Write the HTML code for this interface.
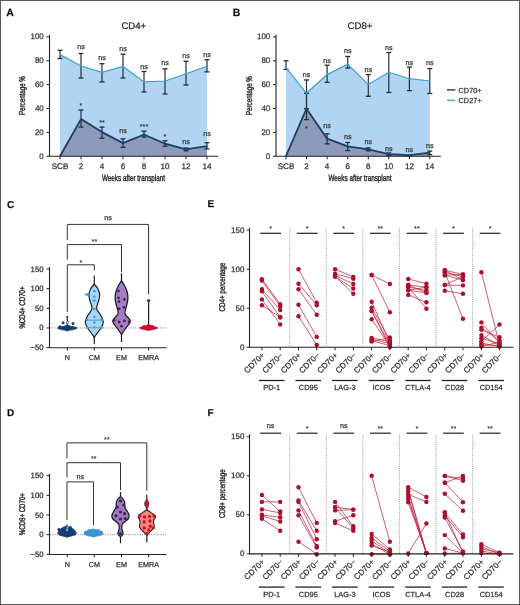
<!DOCTYPE html>
<html><head><meta charset="utf-8">
<style>
html,body{margin:0;padding:0;background:#fff;}
body{width:520px;height:605px;overflow:hidden;}
svg{display:block;font-family:"Liberation Sans", sans-serif;will-change:transform;}
text{stroke:#444;stroke-width:0.25px;text-rendering:geometricPrecision;}
text.st{stroke:#333;stroke-width:0.12px;}
text.ct{stroke:#333;stroke-width:0.42px;}
</style></head>
<body>
<svg width="520" height="605" viewBox="0 0 520 605">
<rect x="0" y="0" width="520" height="605" fill="#fff"/>
<text x="6.30" y="16.00" font-size="10.5" text-anchor="start" fill="#000" font-weight="bold" >A</text>
<text x="133.80" y="29.40" font-size="9.6" text-anchor="middle" fill="#222" font-weight="normal" >CD4+</text>
<polygon points="60.00,156.3 60.00,54.60 81.00,66.00 102.00,72.30 123.00,66.50 144.00,81.90 165.00,81.00 186.00,73.80 207.00,66.20 207.00,156.3" fill="#b0d4f1"/>
<polygon points="60.00,156.3 60.00,156.20 81.00,119.10 102.00,132.10 123.00,143.10 144.00,134.50 165.00,143.70 186.00,149.40 207.00,146.20 207.00,156.3" fill="#8d9aba"/>
<line x1="60.00" y1="50.30" x2="60.00" y2="58.50" stroke="#222f3e" stroke-width="1.2" />
<line x1="57.50" y1="50.30" x2="62.50" y2="50.30" stroke="#222f3e" stroke-width="1.3" />
<line x1="57.50" y1="58.50" x2="62.50" y2="58.50" stroke="#222f3e" stroke-width="1.3" />
<line x1="81.00" y1="53.50" x2="81.00" y2="78.00" stroke="#222f3e" stroke-width="1.2" />
<line x1="78.50" y1="53.50" x2="83.50" y2="53.50" stroke="#222f3e" stroke-width="1.3" />
<line x1="78.50" y1="78.00" x2="83.50" y2="78.00" stroke="#222f3e" stroke-width="1.3" />
<line x1="102.00" y1="63.70" x2="102.00" y2="81.90" stroke="#222f3e" stroke-width="1.2" />
<line x1="99.50" y1="63.70" x2="104.50" y2="63.70" stroke="#222f3e" stroke-width="1.3" />
<line x1="99.50" y1="81.90" x2="104.50" y2="81.90" stroke="#222f3e" stroke-width="1.3" />
<line x1="123.00" y1="54.20" x2="123.00" y2="78.00" stroke="#222f3e" stroke-width="1.2" />
<line x1="120.50" y1="54.20" x2="125.50" y2="54.20" stroke="#222f3e" stroke-width="1.3" />
<line x1="120.50" y1="78.00" x2="125.50" y2="78.00" stroke="#222f3e" stroke-width="1.3" />
<line x1="144.00" y1="71.50" x2="144.00" y2="92.00" stroke="#222f3e" stroke-width="1.2" />
<line x1="141.50" y1="71.50" x2="146.50" y2="71.50" stroke="#222f3e" stroke-width="1.3" />
<line x1="141.50" y1="92.00" x2="146.50" y2="92.00" stroke="#222f3e" stroke-width="1.3" />
<line x1="165.00" y1="68.80" x2="165.00" y2="94.00" stroke="#222f3e" stroke-width="1.2" />
<line x1="162.50" y1="68.80" x2="167.50" y2="68.80" stroke="#222f3e" stroke-width="1.3" />
<line x1="162.50" y1="94.00" x2="167.50" y2="94.00" stroke="#222f3e" stroke-width="1.3" />
<line x1="186.00" y1="61.30" x2="186.00" y2="85.00" stroke="#222f3e" stroke-width="1.2" />
<line x1="183.50" y1="61.30" x2="188.50" y2="61.30" stroke="#222f3e" stroke-width="1.3" />
<line x1="183.50" y1="85.00" x2="188.50" y2="85.00" stroke="#222f3e" stroke-width="1.3" />
<line x1="207.00" y1="59.80" x2="207.00" y2="71.90" stroke="#222f3e" stroke-width="1.2" />
<line x1="204.50" y1="59.80" x2="209.50" y2="59.80" stroke="#222f3e" stroke-width="1.3" />
<line x1="204.50" y1="71.90" x2="209.50" y2="71.90" stroke="#222f3e" stroke-width="1.3" />
<line x1="81.00" y1="110.00" x2="81.00" y2="127.10" stroke="#222f3e" stroke-width="1.2" />
<line x1="78.50" y1="110.00" x2="83.50" y2="110.00" stroke="#222f3e" stroke-width="1.3" />
<line x1="78.50" y1="127.10" x2="83.50" y2="127.10" stroke="#222f3e" stroke-width="1.3" />
<line x1="102.00" y1="127.10" x2="102.00" y2="138.30" stroke="#222f3e" stroke-width="1.2" />
<line x1="99.50" y1="127.10" x2="104.50" y2="127.10" stroke="#222f3e" stroke-width="1.3" />
<line x1="99.50" y1="138.30" x2="104.50" y2="138.30" stroke="#222f3e" stroke-width="1.3" />
<line x1="123.00" y1="138.80" x2="123.00" y2="147.30" stroke="#222f3e" stroke-width="1.2" />
<line x1="120.50" y1="138.80" x2="125.50" y2="138.80" stroke="#222f3e" stroke-width="1.3" />
<line x1="120.50" y1="147.30" x2="125.50" y2="147.30" stroke="#222f3e" stroke-width="1.3" />
<line x1="144.00" y1="131.10" x2="144.00" y2="137.00" stroke="#222f3e" stroke-width="1.2" />
<line x1="141.50" y1="131.10" x2="146.50" y2="131.10" stroke="#222f3e" stroke-width="1.3" />
<line x1="141.50" y1="137.00" x2="146.50" y2="137.00" stroke="#222f3e" stroke-width="1.3" />
<line x1="165.00" y1="140.80" x2="165.00" y2="146.20" stroke="#222f3e" stroke-width="1.2" />
<line x1="162.50" y1="140.80" x2="167.50" y2="140.80" stroke="#222f3e" stroke-width="1.3" />
<line x1="162.50" y1="146.20" x2="167.50" y2="146.20" stroke="#222f3e" stroke-width="1.3" />
<line x1="186.00" y1="148.00" x2="186.00" y2="150.80" stroke="#222f3e" stroke-width="1.2" />
<line x1="183.50" y1="148.00" x2="188.50" y2="148.00" stroke="#222f3e" stroke-width="1.3" />
<line x1="183.50" y1="150.80" x2="188.50" y2="150.80" stroke="#222f3e" stroke-width="1.3" />
<line x1="207.00" y1="142.70" x2="207.00" y2="148.80" stroke="#222f3e" stroke-width="1.2" />
<line x1="204.50" y1="142.70" x2="209.50" y2="142.70" stroke="#222f3e" stroke-width="1.3" />
<line x1="204.50" y1="148.80" x2="209.50" y2="148.80" stroke="#222f3e" stroke-width="1.3" />
<polyline points="60.00,54.60 81.00,66.00 102.00,72.30 123.00,66.50 144.00,81.90 165.00,81.00 186.00,73.80 207.00,66.20" fill="none" stroke="#3b9fd0" stroke-width="1.2"/>
<polyline points="60.00,156.20 81.00,119.10 102.00,132.10 123.00,143.10 144.00,134.50 165.00,143.70 186.00,149.40 207.00,146.20" fill="none" stroke="#1e3d62" stroke-width="1.8" stroke-linejoin="round"/>
<text x="81.00" y="48.50" font-size="7.2" text-anchor="middle" fill="#333" font-weight="normal" >ns</text>
<text x="102.00" y="59.70" font-size="7.2" text-anchor="middle" fill="#333" font-weight="normal" >ns</text>
<text x="123.00" y="50.90" font-size="7.2" text-anchor="middle" fill="#333" font-weight="normal" >ns</text>
<text x="144.00" y="68.70" font-size="7.2" text-anchor="middle" fill="#333" font-weight="normal" >ns</text>
<text x="165.00" y="65.20" font-size="7.2" text-anchor="middle" fill="#333" font-weight="normal" >ns</text>
<text x="186.00" y="58.20" font-size="7.2" text-anchor="middle" fill="#333" font-weight="normal" >ns</text>
<text x="207.00" y="56.60" font-size="7.2" text-anchor="middle" fill="#333" font-weight="normal" >ns</text>
<text x="81.00" y="108.20" font-size="7.2" text-anchor="middle" fill="#333" font-weight="normal"  class="st">*</text>
<text x="102.00" y="125.20" font-size="7.2" text-anchor="middle" fill="#333" font-weight="normal"  class="st">**</text>
<text x="123.00" y="133.40" font-size="7.2" text-anchor="middle" fill="#333" font-weight="normal" >ns</text>
<text x="144.00" y="129.00" font-size="7.2" text-anchor="middle" fill="#333" font-weight="normal"  class="st">***</text>
<text x="165.00" y="138.60" font-size="7.2" text-anchor="middle" fill="#333" font-weight="normal"  class="st">*</text>
<text x="186.00" y="143.50" font-size="7.2" text-anchor="middle" fill="#333" font-weight="normal" >ns</text>
<text x="207.00" y="136.20" font-size="7.2" text-anchor="middle" fill="#333" font-weight="normal" >ns</text>
<line x1="49.50" y1="34.80" x2="49.50" y2="156.30" stroke="#222" stroke-width="1.1" />
<line x1="49.50" y1="156.30" x2="218.00" y2="156.30" stroke="#222" stroke-width="1.1" />
<line x1="46.50" y1="36.90" x2="49.50" y2="36.90" stroke="#222" stroke-width="1" />
<text x="43.80" y="39.40" font-size="8.0" text-anchor="end" fill="#222" font-weight="normal" >100</text>
<line x1="46.50" y1="60.80" x2="49.50" y2="60.80" stroke="#222" stroke-width="1" />
<text x="43.80" y="63.30" font-size="8.0" text-anchor="end" fill="#222" font-weight="normal" >80</text>
<line x1="46.50" y1="84.60" x2="49.50" y2="84.60" stroke="#222" stroke-width="1" />
<text x="43.80" y="87.10" font-size="8.0" text-anchor="end" fill="#222" font-weight="normal" >60</text>
<line x1="46.50" y1="108.50" x2="49.50" y2="108.50" stroke="#222" stroke-width="1" />
<text x="43.80" y="111.00" font-size="8.0" text-anchor="end" fill="#222" font-weight="normal" >40</text>
<line x1="46.50" y1="132.40" x2="49.50" y2="132.40" stroke="#222" stroke-width="1" />
<text x="43.80" y="134.90" font-size="8.0" text-anchor="end" fill="#222" font-weight="normal" >20</text>
<line x1="46.50" y1="156.30" x2="49.50" y2="156.30" stroke="#222" stroke-width="1" />
<text x="43.80" y="158.80" font-size="8.0" text-anchor="end" fill="#222" font-weight="normal" >0</text>
<line x1="60.00" y1="156.30" x2="60.00" y2="159.30" stroke="#222" stroke-width="1" />
<text x="60.00" y="169.00" font-size="8.1" text-anchor="middle" fill="#222" font-weight="normal" >SCB</text>
<line x1="81.00" y1="156.30" x2="81.00" y2="159.30" stroke="#222" stroke-width="1" />
<text x="81.00" y="169.00" font-size="8.1" text-anchor="middle" fill="#222" font-weight="normal" >2</text>
<line x1="102.00" y1="156.30" x2="102.00" y2="159.30" stroke="#222" stroke-width="1" />
<text x="102.00" y="169.00" font-size="8.1" text-anchor="middle" fill="#222" font-weight="normal" >4</text>
<line x1="123.00" y1="156.30" x2="123.00" y2="159.30" stroke="#222" stroke-width="1" />
<text x="123.00" y="169.00" font-size="8.1" text-anchor="middle" fill="#222" font-weight="normal" >6</text>
<line x1="144.00" y1="156.30" x2="144.00" y2="159.30" stroke="#222" stroke-width="1" />
<text x="144.00" y="169.00" font-size="8.1" text-anchor="middle" fill="#222" font-weight="normal" >8</text>
<line x1="165.00" y1="156.30" x2="165.00" y2="159.30" stroke="#222" stroke-width="1" />
<text x="165.00" y="169.00" font-size="8.1" text-anchor="middle" fill="#222" font-weight="normal" >10</text>
<line x1="186.00" y1="156.30" x2="186.00" y2="159.30" stroke="#222" stroke-width="1" />
<text x="186.00" y="169.00" font-size="8.1" text-anchor="middle" fill="#222" font-weight="normal" >12</text>
<line x1="207.00" y1="156.30" x2="207.00" y2="159.30" stroke="#222" stroke-width="1" />
<text x="207.00" y="169.00" font-size="8.1" text-anchor="middle" fill="#222" font-weight="normal" >14</text>
<text class="ct" x="133.50" y="181.10" font-size="9.0" text-anchor="middle" fill="#222" textLength="63" lengthAdjust="spacingAndGlyphs">Weeks after transplant</text>
<text class="ct" x="25.10" y="95.60" font-size="8.6" text-anchor="middle" fill="#222" textLength="38.8" lengthAdjust="spacingAndGlyphs" transform="rotate(-90 25.10 95.60)">Percentage %</text>
<text x="232.80" y="16.00" font-size="10.5" text-anchor="start" fill="#000" font-weight="bold" >B</text>
<text x="360.00" y="29.40" font-size="9.6" text-anchor="middle" fill="#222" font-weight="normal" >CD8+</text>
<polygon points="286.00,156.3 286.00,67.50 306.50,93.30 327.10,74.60 347.70,64.20 368.30,84.60 388.80,72.30 409.40,78.70 429.80,81.00 429.80,156.3" fill="#b0d4f1"/>
<polygon points="286.00,156.3 286.00,156.00 306.50,108.70 327.10,138.70 347.70,146.30 368.30,149.40 388.80,154.20 409.40,155.20 429.80,152.70 429.80,156.3" fill="#8d9aba"/>
<line x1="286.00" y1="60.80" x2="286.00" y2="69.40" stroke="#222f3e" stroke-width="1.2" />
<line x1="283.50" y1="60.80" x2="288.50" y2="60.80" stroke="#222f3e" stroke-width="1.3" />
<line x1="283.50" y1="69.40" x2="288.50" y2="69.40" stroke="#222f3e" stroke-width="1.3" />
<line x1="306.50" y1="79.90" x2="306.50" y2="108.70" stroke="#222f3e" stroke-width="1.2" />
<line x1="304.00" y1="79.90" x2="309.00" y2="79.90" stroke="#222f3e" stroke-width="1.3" />
<line x1="304.00" y1="108.70" x2="309.00" y2="108.70" stroke="#222f3e" stroke-width="1.3" />
<line x1="327.10" y1="65.20" x2="327.10" y2="82.30" stroke="#222f3e" stroke-width="1.2" />
<line x1="324.60" y1="65.20" x2="329.60" y2="65.20" stroke="#222f3e" stroke-width="1.3" />
<line x1="324.60" y1="82.30" x2="329.60" y2="82.30" stroke="#222f3e" stroke-width="1.3" />
<line x1="347.70" y1="56.50" x2="347.70" y2="68.10" stroke="#222f3e" stroke-width="1.2" />
<line x1="345.20" y1="56.50" x2="350.20" y2="56.50" stroke="#222f3e" stroke-width="1.3" />
<line x1="345.20" y1="68.10" x2="350.20" y2="68.10" stroke="#222f3e" stroke-width="1.3" />
<line x1="368.30" y1="74.60" x2="368.30" y2="96.30" stroke="#222f3e" stroke-width="1.2" />
<line x1="365.80" y1="74.60" x2="370.80" y2="74.60" stroke="#222f3e" stroke-width="1.3" />
<line x1="365.80" y1="96.30" x2="370.80" y2="96.30" stroke="#222f3e" stroke-width="1.3" />
<line x1="388.80" y1="52.50" x2="388.80" y2="92.50" stroke="#222f3e" stroke-width="1.2" />
<line x1="386.30" y1="52.50" x2="391.30" y2="52.50" stroke="#222f3e" stroke-width="1.3" />
<line x1="386.30" y1="92.50" x2="391.30" y2="92.50" stroke="#222f3e" stroke-width="1.3" />
<line x1="409.40" y1="67.10" x2="409.40" y2="90.60" stroke="#222f3e" stroke-width="1.2" />
<line x1="406.90" y1="67.10" x2="411.90" y2="67.10" stroke="#222f3e" stroke-width="1.3" />
<line x1="406.90" y1="90.60" x2="411.90" y2="90.60" stroke="#222f3e" stroke-width="1.3" />
<line x1="429.80" y1="68.50" x2="429.80" y2="93.50" stroke="#222f3e" stroke-width="1.2" />
<line x1="427.30" y1="68.50" x2="432.30" y2="68.50" stroke="#222f3e" stroke-width="1.3" />
<line x1="427.30" y1="93.50" x2="432.30" y2="93.50" stroke="#222f3e" stroke-width="1.3" />
<line x1="306.50" y1="93.30" x2="306.50" y2="119.60" stroke="#222f3e" stroke-width="1.2" />
<line x1="304.00" y1="93.30" x2="309.00" y2="93.30" stroke="#222f3e" stroke-width="1.3" />
<line x1="304.00" y1="119.60" x2="309.00" y2="119.60" stroke="#222f3e" stroke-width="1.3" />
<line x1="327.10" y1="133.80" x2="327.10" y2="143.80" stroke="#222f3e" stroke-width="1.2" />
<line x1="324.60" y1="133.80" x2="329.60" y2="133.80" stroke="#222f3e" stroke-width="1.3" />
<line x1="324.60" y1="143.80" x2="329.60" y2="143.80" stroke="#222f3e" stroke-width="1.3" />
<line x1="347.70" y1="142.50" x2="347.70" y2="150.60" stroke="#222f3e" stroke-width="1.2" />
<line x1="345.20" y1="142.50" x2="350.20" y2="142.50" stroke="#222f3e" stroke-width="1.3" />
<line x1="345.20" y1="150.60" x2="350.20" y2="150.60" stroke="#222f3e" stroke-width="1.3" />
<line x1="368.30" y1="147.90" x2="368.30" y2="150.80" stroke="#222f3e" stroke-width="1.2" />
<line x1="365.80" y1="147.90" x2="370.80" y2="147.90" stroke="#222f3e" stroke-width="1.3" />
<line x1="365.80" y1="150.80" x2="370.80" y2="150.80" stroke="#222f3e" stroke-width="1.3" />
<line x1="388.80" y1="153.00" x2="388.80" y2="155.30" stroke="#222f3e" stroke-width="1.2" />
<line x1="386.30" y1="153.00" x2="391.30" y2="153.00" stroke="#222f3e" stroke-width="1.3" />
<line x1="386.30" y1="155.30" x2="391.30" y2="155.30" stroke="#222f3e" stroke-width="1.3" />
<line x1="429.80" y1="151.20" x2="429.80" y2="154.60" stroke="#222f3e" stroke-width="1.2" />
<line x1="427.30" y1="151.20" x2="432.30" y2="151.20" stroke="#222f3e" stroke-width="1.3" />
<line x1="427.30" y1="154.60" x2="432.30" y2="154.60" stroke="#222f3e" stroke-width="1.3" />
<polyline points="286.00,67.50 306.50,93.30 327.10,74.60 347.70,64.20 368.30,84.60 388.80,72.30 409.40,78.70 429.80,81.00" fill="none" stroke="#3b9fd0" stroke-width="1.2"/>
<polyline points="286.00,156.00 306.50,108.70 327.10,138.70 347.70,146.30 368.30,149.40 388.80,154.20 409.40,155.20 429.80,152.70" fill="none" stroke="#1e3d62" stroke-width="1.8" stroke-linejoin="round"/>
<text x="306.50" y="76.80" font-size="7.2" text-anchor="middle" fill="#333" font-weight="normal" >ns</text>
<text x="327.10" y="63.00" font-size="7.2" text-anchor="middle" fill="#333" font-weight="normal" >ns</text>
<text x="347.70" y="53.00" font-size="7.2" text-anchor="middle" fill="#333" font-weight="normal" >ns</text>
<text x="368.30" y="72.00" font-size="7.2" text-anchor="middle" fill="#333" font-weight="normal" >ns</text>
<text x="388.80" y="49.90" font-size="7.2" text-anchor="middle" fill="#333" font-weight="normal" >ns</text>
<text x="409.40" y="64.90" font-size="7.2" text-anchor="middle" fill="#333" font-weight="normal" >ns</text>
<text x="429.80" y="64.90" font-size="7.2" text-anchor="middle" fill="#333" font-weight="normal" >ns</text>
<text x="306.50" y="130.50" font-size="7.2" text-anchor="middle" fill="#333" font-weight="normal"  class="st">*</text>
<text x="327.10" y="128.40" font-size="7.2" text-anchor="middle" fill="#333" font-weight="normal" >ns</text>
<text x="347.70" y="138.90" font-size="7.2" text-anchor="middle" fill="#333" font-weight="normal" >ns</text>
<text x="368.30" y="143.90" font-size="7.2" text-anchor="middle" fill="#333" font-weight="normal" >ns</text>
<text x="388.80" y="150.70" font-size="7.2" text-anchor="middle" fill="#333" font-weight="normal" >ns</text>
<text x="409.40" y="151.60" font-size="7.2" text-anchor="middle" fill="#333" font-weight="normal" >ns</text>
<text x="429.80" y="148.20" font-size="7.2" text-anchor="middle" fill="#333" font-weight="normal" >ns</text>
<line x1="276.00" y1="34.80" x2="276.00" y2="156.30" stroke="#222" stroke-width="1.1" />
<line x1="276.00" y1="156.30" x2="440.80" y2="156.30" stroke="#222" stroke-width="1.1" />
<line x1="273.00" y1="36.90" x2="276.00" y2="36.90" stroke="#222" stroke-width="1" />
<text x="270.30" y="39.40" font-size="8.0" text-anchor="end" fill="#222" font-weight="normal" >100</text>
<line x1="273.00" y1="60.80" x2="276.00" y2="60.80" stroke="#222" stroke-width="1" />
<text x="270.30" y="63.30" font-size="8.0" text-anchor="end" fill="#222" font-weight="normal" >80</text>
<line x1="273.00" y1="84.60" x2="276.00" y2="84.60" stroke="#222" stroke-width="1" />
<text x="270.30" y="87.10" font-size="8.0" text-anchor="end" fill="#222" font-weight="normal" >60</text>
<line x1="273.00" y1="108.50" x2="276.00" y2="108.50" stroke="#222" stroke-width="1" />
<text x="270.30" y="111.00" font-size="8.0" text-anchor="end" fill="#222" font-weight="normal" >40</text>
<line x1="273.00" y1="132.40" x2="276.00" y2="132.40" stroke="#222" stroke-width="1" />
<text x="270.30" y="134.90" font-size="8.0" text-anchor="end" fill="#222" font-weight="normal" >20</text>
<line x1="273.00" y1="156.30" x2="276.00" y2="156.30" stroke="#222" stroke-width="1" />
<text x="270.30" y="158.80" font-size="8.0" text-anchor="end" fill="#222" font-weight="normal" >0</text>
<line x1="286.00" y1="156.30" x2="286.00" y2="159.30" stroke="#222" stroke-width="1" />
<text x="286.00" y="169.00" font-size="8.1" text-anchor="middle" fill="#222" font-weight="normal" >SCB</text>
<line x1="306.50" y1="156.30" x2="306.50" y2="159.30" stroke="#222" stroke-width="1" />
<text x="306.50" y="169.00" font-size="8.1" text-anchor="middle" fill="#222" font-weight="normal" >2</text>
<line x1="327.10" y1="156.30" x2="327.10" y2="159.30" stroke="#222" stroke-width="1" />
<text x="327.10" y="169.00" font-size="8.1" text-anchor="middle" fill="#222" font-weight="normal" >4</text>
<line x1="347.70" y1="156.30" x2="347.70" y2="159.30" stroke="#222" stroke-width="1" />
<text x="347.70" y="169.00" font-size="8.1" text-anchor="middle" fill="#222" font-weight="normal" >6</text>
<line x1="368.30" y1="156.30" x2="368.30" y2="159.30" stroke="#222" stroke-width="1" />
<text x="368.30" y="169.00" font-size="8.1" text-anchor="middle" fill="#222" font-weight="normal" >8</text>
<line x1="388.80" y1="156.30" x2="388.80" y2="159.30" stroke="#222" stroke-width="1" />
<text x="388.80" y="169.00" font-size="8.1" text-anchor="middle" fill="#222" font-weight="normal" >10</text>
<line x1="409.40" y1="156.30" x2="409.40" y2="159.30" stroke="#222" stroke-width="1" />
<text x="409.40" y="169.00" font-size="8.1" text-anchor="middle" fill="#222" font-weight="normal" >12</text>
<line x1="429.80" y1="156.30" x2="429.80" y2="159.30" stroke="#222" stroke-width="1" />
<text x="429.80" y="169.00" font-size="8.1" text-anchor="middle" fill="#222" font-weight="normal" >14</text>
<text class="ct" x="360.00" y="181.10" font-size="9.0" text-anchor="middle" fill="#222" textLength="63" lengthAdjust="spacingAndGlyphs">Weeks after transplant</text>
<text class="ct" x="252.40" y="95.60" font-size="8.6" text-anchor="middle" fill="#222" textLength="38.8" lengthAdjust="spacingAndGlyphs" transform="rotate(-90 252.40 95.60)">Percentage %</text>
<line x1="447.00" y1="89.90" x2="455.40" y2="89.90" stroke="#3b5372" stroke-width="1.6" />
<text x="458.60" y="92.60" font-size="7.3" text-anchor="start" fill="#222" font-weight="normal" >CD70+</text>
<line x1="447.00" y1="100.40" x2="455.40" y2="100.40" stroke="#5ab0e0" stroke-width="1.6" />
<text x="458.60" y="103.10" font-size="7.3" text-anchor="start" fill="#222" font-weight="normal" >CD27+</text>
<text x="7.10" y="207.50" font-size="10.0" text-anchor="start" fill="#000" font-weight="bold" >C</text>
<line x1="50.00" y1="327.95" x2="166.00" y2="327.95" stroke="#6a7d8a" stroke-width="0.9" stroke-dasharray="1,1.3"/>
<polyline points="67.3,239.80 67.3,224.40 148.6,224.40 148.6,294.50" fill="none" stroke="#333" stroke-width="1"/>
<text x="107.95" y="219.90" font-size="7.2" text-anchor="middle" fill="#333" font-weight="normal" >ns</text>
<polyline points="67.3,259.60 67.3,244.60 121.5,244.60 121.5,272.30" fill="none" stroke="#333" stroke-width="1"/>
<text x="94.40" y="244.40" font-size="7.2" text-anchor="middle" fill="#333" font-weight="normal"  class="st">**</text>
<polyline points="67.3,311.90 67.3,264.80 94.3,264.80 94.3,270.60" fill="none" stroke="#333" stroke-width="1"/>
<text x="80.80" y="264.80" font-size="7.2" text-anchor="middle" fill="#333" font-weight="normal"  class="st">*</text>
<line x1="67.3" y1="315.8" x2="67.3" y2="331.6" stroke="#123d6a" stroke-width="1.2"/>
<path d="M67.50,325.00 C68.12,325.22 69.42,325.93 70.80,326.30 C72.18,326.67 74.78,326.87 75.80,327.20 C76.82,327.53 77.32,327.90 76.90,328.30 C76.48,328.70 74.85,329.22 73.30,329.60 C71.75,329.98 68.65,330.43 67.60,330.60 C66.55,330.77 68.05,330.77 67.00,330.60 C65.95,330.43 62.85,329.98 61.30,329.60 C59.75,329.22 58.12,328.70 57.70,328.30 C57.28,327.90 57.78,327.53 58.80,327.20 C59.82,326.87 62.42,326.67 63.80,326.30 C65.18,325.93 66.48,325.22 67.10,325.00 C67.72,324.78 66.88,324.78 67.50,325.00Z" fill="#123d6a" stroke="#123d6a" stroke-width="0.8"/>
<circle cx="63.00" cy="322.80" r="1.5" fill="#123d6a" stroke="none" stroke-width="0.5"/><circle cx="73.00" cy="323.40" r="1.5" fill="#123d6a" stroke="none" stroke-width="0.5"/><circle cx="60.00" cy="326.80" r="1.5" fill="#123d6a" stroke="none" stroke-width="0.5"/>
<circle cx="67.30" cy="317.00" r="1.0" fill="#123d6a" stroke="none" stroke-width="0.5"/>
<circle cx="67.60" cy="322.60" r="1.3" fill="#dfe9f2" stroke="#123d6a" stroke-width="0.5"/>
<line x1="94.3" y1="275.6" x2="94.3" y2="344.0" stroke="#1c2530" stroke-width="1.2"/>
<path d="M94.40,284.40 C94.98,285.08 96.82,286.82 97.70,288.50 C98.58,290.18 99.53,292.50 99.70,294.50 C99.87,296.50 99.22,298.18 98.70,300.50 C98.18,302.82 96.25,305.90 96.60,308.40 C96.95,310.90 99.68,313.20 100.80,315.50 C101.92,317.80 103.33,320.03 103.30,322.20 C103.27,324.37 102.08,326.07 100.60,328.50 C99.12,330.93 95.47,335.42 94.40,336.80 C93.33,338.18 95.27,338.18 94.20,336.80 C93.13,335.42 89.48,330.93 88.00,328.50 C86.52,326.07 85.33,324.37 85.30,322.20 C85.27,320.03 86.68,317.80 87.80,315.50 C88.92,313.20 91.65,310.90 92.00,308.40 C92.35,305.90 90.42,302.82 89.90,300.50 C89.38,298.18 88.73,296.50 88.90,294.50 C89.07,292.50 90.02,290.18 90.90,288.50 C91.78,286.82 93.62,285.08 94.20,284.40 C94.78,283.72 93.82,283.72 94.40,284.40Z" fill="#aad4f3" stroke="#1c2530" stroke-width="1.2"/>
<circle cx="94.30" cy="291.20" r="1.25" fill="#2f9fcc" stroke="none" stroke-width="0.5"/><circle cx="94.30" cy="296.80" r="1.25" fill="#2f9fcc" stroke="none" stroke-width="0.5"/><circle cx="94.30" cy="300.60" r="1.25" fill="#2f9fcc" stroke="none" stroke-width="0.5"/><circle cx="94.30" cy="309.00" r="1.25" fill="#2f9fcc" stroke="none" stroke-width="0.5"/><circle cx="94.30" cy="317.00" r="1.25" fill="#2f9fcc" stroke="none" stroke-width="0.5"/><circle cx="94.30" cy="322.60" r="1.25" fill="#2f9fcc" stroke="none" stroke-width="0.5"/><circle cx="94.30" cy="327.60" r="1.25" fill="#2f9fcc" stroke="none" stroke-width="0.5"/><circle cx="86.40" cy="294.40" r="1.25" fill="#2f9fcc" stroke="none" stroke-width="0.5"/><circle cx="88.00" cy="294.40" r="1.25" fill="#2f9fcc" stroke="none" stroke-width="0.5"/><circle cx="87.00" cy="320.10" r="1.25" fill="#2f9fcc" stroke="none" stroke-width="0.5"/><circle cx="101.50" cy="320.10" r="1.25" fill="#2f9fcc" stroke="none" stroke-width="0.5"/><circle cx="87.00" cy="327.60" r="1.25" fill="#2f9fcc" stroke="none" stroke-width="0.5"/><circle cx="101.50" cy="327.60" r="1.25" fill="#2f9fcc" stroke="none" stroke-width="0.5"/>
<rect x="85.8" y="319.6" width="17.6" height="1.1" fill="#3fb0d6"/>
<rect x="86.5" y="327.2" width="16" height="1.0" fill="#3fb0d6"/>
<line x1="121.5" y1="273.3" x2="121.5" y2="342.0" stroke="#1c1420" stroke-width="1.2"/>
<path d="M121.60,281.00 C122.25,282.00 124.33,285.00 125.30,287.00 C126.27,289.00 126.97,291.00 127.40,293.00 C127.83,295.00 128.05,296.83 127.90,299.00 C127.75,301.17 126.98,303.57 126.50,306.00 C126.02,308.43 124.37,311.12 125.00,313.60 C125.63,316.08 130.02,318.67 130.30,320.90 C130.58,323.13 128.15,324.80 126.70,327.00 C125.25,329.20 122.48,332.92 121.60,334.10 C120.72,335.28 122.28,335.28 121.40,334.10 C120.52,332.92 117.75,329.20 116.30,327.00 C114.85,324.80 112.42,323.13 112.70,320.90 C112.98,318.67 117.37,316.08 118.00,313.60 C118.63,311.12 116.98,308.43 116.50,306.00 C116.02,303.57 115.25,301.17 115.10,299.00 C114.95,296.83 115.17,295.00 115.60,293.00 C116.03,291.00 116.73,289.00 117.70,287.00 C118.67,285.00 120.75,282.00 121.40,281.00 C122.05,280.00 120.95,280.00 121.60,281.00Z" fill="#a27fbf" stroke="#1c1420" stroke-width="1.2"/>
<circle cx="118.60" cy="291.10" r="1.4" fill="#4a1d5c" stroke="none" stroke-width="0.5"/><circle cx="118.60" cy="297.80" r="1.4" fill="#4a1d5c" stroke="none" stroke-width="0.5"/><circle cx="124.30" cy="299.50" r="1.4" fill="#4a1d5c" stroke="none" stroke-width="0.5"/><circle cx="119.00" cy="301.70" r="1.4" fill="#4a1d5c" stroke="none" stroke-width="0.5"/><circle cx="123.90" cy="307.40" r="1.4" fill="#4a1d5c" stroke="none" stroke-width="0.5"/><circle cx="119.20" cy="308.70" r="1.4" fill="#4a1d5c" stroke="none" stroke-width="0.5"/><circle cx="114.20" cy="320.20" r="1.4" fill="#4a1d5c" stroke="none" stroke-width="0.5"/><circle cx="119.20" cy="322.00" r="1.4" fill="#4a1d5c" stroke="none" stroke-width="0.5"/><circle cx="124.50" cy="320.90" r="1.4" fill="#4a1d5c" stroke="none" stroke-width="0.5"/><circle cx="129.10" cy="322.00" r="1.4" fill="#4a1d5c" stroke="none" stroke-width="0.5"/><circle cx="121.60" cy="326.20" r="1.4" fill="#4a1d5c" stroke="none" stroke-width="0.5"/>
<line x1="148.6" y1="300.6" x2="148.6" y2="329.5" stroke="#2a1a22" stroke-width="1.2"/>
<path d="M148.80,324.60 C149.50,324.87 151.27,325.75 152.60,326.20 C153.93,326.65 156.03,326.93 156.80,327.30 C157.57,327.67 157.73,328.05 157.20,328.40 C156.67,328.75 155.00,329.07 153.60,329.40 C152.20,329.73 149.67,330.23 148.80,330.40 C147.93,330.57 149.27,330.57 148.40,330.40 C147.53,330.23 145.00,329.73 143.60,329.40 C142.20,329.07 140.53,328.75 140.00,328.40 C139.47,328.05 139.63,327.67 140.40,327.30 C141.17,326.93 143.27,326.65 144.60,326.20 C145.93,325.75 147.70,324.87 148.40,324.60 C149.10,324.33 148.10,324.33 148.80,324.60Z" fill="#c8102e" stroke="#c8102e" stroke-width="0.8"/>
<circle cx="144.00" cy="326.50" r="1.6" fill="#c8102e" stroke="none" stroke-width="0.5"/><circle cx="152.50" cy="326.50" r="1.6" fill="#c8102e" stroke="none" stroke-width="0.5"/>
<circle cx="148.60" cy="300.60" r="1.7" fill="#a3122e" stroke="none" stroke-width="0.5"/>
<line x1="49.50" y1="267.00" x2="49.50" y2="348.00" stroke="#222" stroke-width="1.1" />
<line x1="49.50" y1="347.80" x2="166.60" y2="347.80" stroke="#222" stroke-width="1.1" />
<line x1="46.50" y1="269.00" x2="49.50" y2="269.00" stroke="#222" stroke-width="1" />
<text x="43.60" y="271.50" font-size="7.8" text-anchor="end" fill="#222" font-weight="normal" >150</text>
<line x1="46.50" y1="288.65" x2="49.50" y2="288.65" stroke="#222" stroke-width="1" />
<text x="43.60" y="291.15" font-size="7.8" text-anchor="end" fill="#222" font-weight="normal" >100</text>
<line x1="46.50" y1="308.30" x2="49.50" y2="308.30" stroke="#222" stroke-width="1" />
<text x="43.60" y="310.80" font-size="7.8" text-anchor="end" fill="#222" font-weight="normal" >50</text>
<line x1="46.50" y1="327.95" x2="49.50" y2="327.95" stroke="#222" stroke-width="1" />
<text x="43.60" y="330.45" font-size="7.8" text-anchor="end" fill="#222" font-weight="normal" >0</text>
<line x1="46.50" y1="347.60" x2="49.50" y2="347.60" stroke="#222" stroke-width="1" />
<text x="43.60" y="350.10" font-size="7.8" text-anchor="end" fill="#222" font-weight="normal" >−50</text>
<line x1="67.30" y1="347.80" x2="67.30" y2="350.60" stroke="#222" stroke-width="1" />
<text x="67.30" y="359.90" font-size="7.2" text-anchor="middle" fill="#222" font-weight="normal" >N</text>
<line x1="94.30" y1="347.80" x2="94.30" y2="350.60" stroke="#222" stroke-width="1" />
<text x="94.30" y="359.90" font-size="7.2" text-anchor="middle" fill="#222" font-weight="normal" >CM</text>
<line x1="121.50" y1="347.80" x2="121.50" y2="350.60" stroke="#222" stroke-width="1" />
<text x="121.50" y="359.90" font-size="7.2" text-anchor="middle" fill="#222" font-weight="normal" >EM</text>
<line x1="148.60" y1="347.80" x2="148.60" y2="350.60" stroke="#222" stroke-width="1" />
<text x="148.60" y="359.90" font-size="7.2" text-anchor="middle" fill="#222" font-weight="normal" >EMRA</text>
<text class="ct" x="25.00" y="307.50" font-size="8.2" text-anchor="middle" fill="#222" textLength="42.2" lengthAdjust="spacingAndGlyphs" transform="rotate(-90 25.00 307.50)">%CD4+ CD70+</text>
<text x="7.10" y="416.00" font-size="10.0" text-anchor="start" fill="#000" font-weight="bold" >D</text>
<line x1="50.00" y1="534.65" x2="166.00" y2="534.65" stroke="#6a7d8a" stroke-width="0.9" stroke-dasharray="1,1.3"/>
<polyline points="67.0,458.30 67.0,442.90 146.8,442.90 146.8,490.80" fill="none" stroke="#333" stroke-width="1"/>
<text x="106.90" y="441.50" font-size="7.2" text-anchor="middle" fill="#333" font-weight="normal"  class="st">**</text>
<polyline points="67.0,477.50 67.0,462.70 120.5,462.70 120.5,490.10" fill="none" stroke="#333" stroke-width="1"/>
<text x="93.75" y="461.10" font-size="7.2" text-anchor="middle" fill="#333" font-weight="normal"  class="st">**</text>
<polyline points="67.0,520.00 67.0,481.90 93.5,481.90 93.5,525.20" fill="none" stroke="#333" stroke-width="1"/>
<text x="80.25" y="478.70" font-size="7.2" text-anchor="middle" fill="#333" font-weight="normal" >ns</text>
<line x1="67.0" y1="524.5" x2="67.0" y2="537.5" stroke="#163e6e" stroke-width="1.2"/>
<path d="M67.20,526.00 C67.90,526.25 69.87,526.92 71.00,527.50 C72.13,528.08 73.25,528.83 74.00,529.50 C74.75,530.17 75.13,530.83 75.50,531.50 C75.87,532.17 76.62,532.83 76.20,533.50 C75.78,534.17 74.48,534.92 73.00,535.50 C71.52,536.08 68.35,536.75 67.30,537.00 C66.25,537.25 67.75,537.25 66.70,537.00 C65.65,536.75 62.48,536.08 61.00,535.50 C59.52,534.92 58.22,534.17 57.80,533.50 C57.38,532.83 58.13,532.17 58.50,531.50 C58.87,530.83 59.25,530.17 60.00,529.50 C60.75,528.83 61.87,528.08 63.00,527.50 C64.13,526.92 66.10,526.25 66.80,526.00 C67.50,525.75 66.50,525.75 67.20,526.00Z" fill="#163e6e" stroke="#163e6e" stroke-width="0.8"/>
<circle cx="59.00" cy="529.60" r="1.6" fill="#163e6e" stroke="none" stroke-width="0.5"/><circle cx="63.50" cy="530.80" r="1.6" fill="#163e6e" stroke="none" stroke-width="0.5"/><circle cx="70.50" cy="527.80" r="1.6" fill="#163e6e" stroke="none" stroke-width="0.5"/><circle cx="72.50" cy="531.00" r="1.6" fill="#163e6e" stroke="none" stroke-width="0.5"/><circle cx="74.50" cy="534.00" r="1.6" fill="#163e6e" stroke="none" stroke-width="0.5"/><circle cx="60.50" cy="534.00" r="1.6" fill="#163e6e" stroke="none" stroke-width="0.5"/><circle cx="66.00" cy="532.00" r="1.6" fill="#163e6e" stroke="none" stroke-width="0.5"/>
<circle cx="67.60" cy="527.60" r="1.4" fill="#6c97c8" stroke="none" stroke-width="0.5"/><circle cx="67.00" cy="530.00" r="1.4" fill="#6c97c8" stroke="none" stroke-width="0.5"/>
<line x1="93.5" y1="529.0" x2="93.5" y2="537.5" stroke="#2d7fba" stroke-width="1"/>
<path d="M94.00,529.20 C94.92,529.42 97.15,530.03 98.50,530.50 C99.85,530.97 101.40,531.42 102.10,532.00 C102.80,532.58 103.13,533.40 102.70,534.00 C102.27,534.60 100.95,535.17 99.50,535.60 C98.05,536.03 95.08,536.43 94.00,536.60 C92.92,536.77 94.08,536.77 93.00,536.60 C91.92,536.43 88.95,536.03 87.50,535.60 C86.05,535.17 84.73,534.60 84.30,534.00 C83.87,533.40 84.20,532.58 84.90,532.00 C85.60,531.42 87.15,530.97 88.50,530.50 C89.85,530.03 92.08,529.42 93.00,529.20 C93.92,528.98 93.08,528.98 94.00,529.20Z" fill="#3597d8" stroke="#2d84c4" stroke-width="0.8"/>
<circle cx="85.80" cy="532.20" r="1.55" fill="#3597d8" stroke="none" stroke-width="0.5"/><circle cx="101.20" cy="532.20" r="1.55" fill="#3597d8" stroke="none" stroke-width="0.5"/><circle cx="89.00" cy="530.60" r="1.55" fill="#3597d8" stroke="none" stroke-width="0.5"/><circle cx="93.50" cy="530.20" r="1.55" fill="#3597d8" stroke="none" stroke-width="0.5"/><circle cx="98.00" cy="530.60" r="1.55" fill="#3597d8" stroke="none" stroke-width="0.5"/>
<line x1="120.5" y1="492.1" x2="120.5" y2="543.3" stroke="#1c1420" stroke-width="1.2"/>
<path d="M120.60,496.60 C121.05,497.00 122.43,498.10 123.10,499.00 C123.77,499.90 124.32,501.00 124.60,502.00 C124.88,503.00 124.72,504.00 124.80,505.00 C124.88,506.00 124.72,507.00 125.10,508.00 C125.48,509.00 126.50,510.00 127.10,511.00 C127.70,512.00 128.37,513.08 128.70,514.00 C129.03,514.92 129.20,515.67 129.10,516.50 C129.00,517.33 128.77,518.17 128.10,519.00 C127.43,519.83 126.05,520.67 125.10,521.50 C124.15,522.33 122.95,523.08 122.40,524.00 C121.85,524.92 121.85,526.00 121.80,527.00 C121.75,528.00 121.88,529.00 122.10,530.00 C122.32,531.00 123.03,532.17 123.10,533.00 C123.17,533.83 122.92,534.40 122.50,535.00 C122.08,535.60 120.95,536.33 120.60,536.60 C120.25,536.87 120.75,536.87 120.40,536.60 C120.05,536.33 118.92,535.60 118.50,535.00 C118.08,534.40 117.83,533.83 117.90,533.00 C117.97,532.17 118.68,531.00 118.90,530.00 C119.12,529.00 119.25,528.00 119.20,527.00 C119.15,526.00 119.15,524.92 118.60,524.00 C118.05,523.08 116.85,522.33 115.90,521.50 C114.95,520.67 113.57,519.83 112.90,519.00 C112.23,518.17 112.00,517.33 111.90,516.50 C111.80,515.67 111.97,514.92 112.30,514.00 C112.63,513.08 113.30,512.00 113.90,511.00 C114.50,510.00 115.52,509.00 115.90,508.00 C116.28,507.00 116.12,506.00 116.20,505.00 C116.28,504.00 116.12,503.00 116.40,502.00 C116.68,501.00 117.23,499.90 117.90,499.00 C118.57,498.10 119.95,497.00 120.40,496.60 C120.85,496.20 120.15,496.20 120.60,496.60Z" fill="#9c79bd" stroke="#1c1420" stroke-width="1.2"/>
<circle cx="120.50" cy="500.80" r="1.6" fill="#4a1d5c" stroke="none" stroke-width="0.5"/><circle cx="123.80" cy="505.00" r="1.6" fill="#4a1d5c" stroke="none" stroke-width="0.5"/><circle cx="117.20" cy="507.00" r="1.6" fill="#4a1d5c" stroke="none" stroke-width="0.5"/><circle cx="120.50" cy="512.00" r="1.6" fill="#4a1d5c" stroke="none" stroke-width="0.5"/><circle cx="124.60" cy="513.50" r="1.6" fill="#4a1d5c" stroke="none" stroke-width="0.5"/><circle cx="116.00" cy="515.80" r="1.6" fill="#4a1d5c" stroke="none" stroke-width="0.5"/><circle cx="120.50" cy="519.00" r="1.6" fill="#4a1d5c" stroke="none" stroke-width="0.5"/><circle cx="125.20" cy="518.50" r="1.6" fill="#4a1d5c" stroke="none" stroke-width="0.5"/><circle cx="120.50" cy="533.80" r="1.6" fill="#4a1d5c" stroke="none" stroke-width="0.5"/>
<line x1="146.8" y1="494.8" x2="146.8" y2="542.6" stroke="#2a1a1a" stroke-width="1.2"/>
<path d="M146.90,499.80 C147.18,500.08 148.08,500.80 148.40,501.50 C148.72,502.20 148.83,503.17 148.80,504.00 C148.77,504.83 148.52,505.75 148.20,506.50 C147.88,507.25 147.15,508.17 146.90,508.50 C146.65,508.83 146.95,508.83 146.70,508.50 C146.45,508.17 145.72,507.25 145.40,506.50 C145.08,505.75 144.83,504.83 144.80,504.00 C144.77,503.17 144.88,502.20 145.20,501.50 C145.52,500.80 146.42,500.08 146.70,499.80 C146.98,499.52 146.62,499.52 146.90,499.80Z" fill="#d9263c" stroke="#3a1a1a" stroke-width="0.9"/>
<path d="M146.90,509.80 C147.33,510.08 148.40,510.88 149.30,511.50 C150.20,512.12 151.35,512.83 152.30,513.50 C153.25,514.17 154.48,514.83 155.00,515.50 C155.52,516.17 155.60,516.75 155.40,517.50 C155.20,518.25 154.10,519.08 153.80,520.00 C153.50,520.92 153.53,522.00 153.60,523.00 C153.67,524.00 154.25,525.08 154.20,526.00 C154.15,526.92 153.87,527.67 153.30,528.50 C152.73,529.33 151.58,530.17 150.80,531.00 C150.02,531.83 149.25,532.80 148.60,533.50 C147.95,534.20 147.22,534.92 146.90,535.20 C146.58,535.48 147.02,535.48 146.70,535.20 C146.38,534.92 145.65,534.20 145.00,533.50 C144.35,532.80 143.58,531.83 142.80,531.00 C142.02,530.17 140.87,529.33 140.30,528.50 C139.73,527.67 139.45,526.92 139.40,526.00 C139.35,525.08 139.93,524.00 140.00,523.00 C140.07,522.00 140.10,520.92 139.80,520.00 C139.50,519.08 138.40,518.25 138.20,517.50 C138.00,516.75 138.08,516.17 138.60,515.50 C139.12,514.83 140.35,514.17 141.30,513.50 C142.25,512.83 143.40,512.12 144.30,511.50 C145.20,510.88 146.27,510.08 146.70,509.80 C147.13,509.52 146.47,509.52 146.90,509.80Z" fill="#f2897d" stroke="#3a1a1a" stroke-width="1.1"/>
<circle cx="146.80" cy="504.00" r="1.65" fill="#cc0f2a" stroke="none" stroke-width="0.5"/><circle cx="139.60" cy="516.00" r="1.65" fill="#cc0f2a" stroke="none" stroke-width="0.5"/><circle cx="144.50" cy="517.00" r="1.65" fill="#cc0f2a" stroke="none" stroke-width="0.5"/><circle cx="149.50" cy="516.50" r="1.65" fill="#cc0f2a" stroke="none" stroke-width="0.5"/><circle cx="154.00" cy="516.00" r="1.65" fill="#cc0f2a" stroke="none" stroke-width="0.5"/><circle cx="144.20" cy="522.00" r="1.65" fill="#cc0f2a" stroke="none" stroke-width="0.5"/><circle cx="150.00" cy="521.00" r="1.65" fill="#cc0f2a" stroke="none" stroke-width="0.5"/><circle cx="150.20" cy="526.20" r="1.65" fill="#cc0f2a" stroke="none" stroke-width="0.5"/><circle cx="144.20" cy="528.00" r="1.65" fill="#cc0f2a" stroke="none" stroke-width="0.5"/><circle cx="148.80" cy="530.00" r="1.65" fill="#cc0f2a" stroke="none" stroke-width="0.5"/><circle cx="153.20" cy="527.80" r="1.65" fill="#cc0f2a" stroke="none" stroke-width="0.5"/><circle cx="146.80" cy="533.60" r="1.65" fill="#cc0f2a" stroke="none" stroke-width="0.5"/>
<line x1="49.50" y1="473.70" x2="49.50" y2="554.70" stroke="#222" stroke-width="1.1" />
<line x1="49.50" y1="554.50" x2="166.60" y2="554.50" stroke="#222" stroke-width="1.1" />
<line x1="46.50" y1="475.70" x2="49.50" y2="475.70" stroke="#222" stroke-width="1" />
<text x="43.60" y="478.20" font-size="7.8" text-anchor="end" fill="#222" font-weight="normal" >150</text>
<line x1="46.50" y1="495.35" x2="49.50" y2="495.35" stroke="#222" stroke-width="1" />
<text x="43.60" y="497.85" font-size="7.8" text-anchor="end" fill="#222" font-weight="normal" >100</text>
<line x1="46.50" y1="515.00" x2="49.50" y2="515.00" stroke="#222" stroke-width="1" />
<text x="43.60" y="517.50" font-size="7.8" text-anchor="end" fill="#222" font-weight="normal" >50</text>
<line x1="46.50" y1="534.65" x2="49.50" y2="534.65" stroke="#222" stroke-width="1" />
<text x="43.60" y="537.15" font-size="7.8" text-anchor="end" fill="#222" font-weight="normal" >0</text>
<line x1="46.50" y1="554.30" x2="49.50" y2="554.30" stroke="#222" stroke-width="1" />
<text x="43.60" y="556.80" font-size="7.8" text-anchor="end" fill="#222" font-weight="normal" >−50</text>
<line x1="67.30" y1="554.50" x2="67.30" y2="557.30" stroke="#222" stroke-width="1" />
<text x="67.30" y="566.60" font-size="7.2" text-anchor="middle" fill="#222" font-weight="normal" >N</text>
<line x1="94.30" y1="554.50" x2="94.30" y2="557.30" stroke="#222" stroke-width="1" />
<text x="94.30" y="566.60" font-size="7.2" text-anchor="middle" fill="#222" font-weight="normal" >CM</text>
<line x1="121.50" y1="554.50" x2="121.50" y2="557.30" stroke="#222" stroke-width="1" />
<text x="121.50" y="566.60" font-size="7.2" text-anchor="middle" fill="#222" font-weight="normal" >EM</text>
<line x1="148.60" y1="554.50" x2="148.60" y2="557.30" stroke="#222" stroke-width="1" />
<text x="148.60" y="566.60" font-size="7.2" text-anchor="middle" fill="#222" font-weight="normal" >EMRA</text>
<text class="ct" x="25.00" y="514.20" font-size="8.2" text-anchor="middle" fill="#222" textLength="42.2" lengthAdjust="spacingAndGlyphs" transform="rotate(-90 25.00 514.20)">%CD8+ CD70+</text>
<text x="207.40" y="207.40" font-size="10.0" text-anchor="start" fill="#000" font-weight="bold" >E</text>
<line x1="289.70" y1="228.50" x2="289.70" y2="347.30" stroke="#7a7a8a" stroke-width="0.8" stroke-dasharray="1,1.2"/>
<line x1="326.28" y1="228.50" x2="326.28" y2="347.30" stroke="#7a7a8a" stroke-width="0.8" stroke-dasharray="1,1.2"/>
<line x1="362.86" y1="228.50" x2="362.86" y2="347.30" stroke="#7a7a8a" stroke-width="0.8" stroke-dasharray="1,1.2"/>
<line x1="399.44" y1="228.50" x2="399.44" y2="347.30" stroke="#7a7a8a" stroke-width="0.8" stroke-dasharray="1,1.2"/>
<line x1="436.02" y1="228.50" x2="436.02" y2="347.30" stroke="#7a7a8a" stroke-width="0.8" stroke-dasharray="1,1.2"/>
<line x1="472.60" y1="228.50" x2="472.60" y2="347.30" stroke="#7a7a8a" stroke-width="0.8" stroke-dasharray="1,1.2"/>
<line x1="261.90" y1="279.20" x2="280.20" y2="304.20" stroke="#c22740" stroke-width="0.75" />
<line x1="261.90" y1="280.60" x2="280.20" y2="306.20" stroke="#c22740" stroke-width="0.75" />
<line x1="261.90" y1="289.20" x2="280.20" y2="310.00" stroke="#c22740" stroke-width="0.75" />
<line x1="261.90" y1="291.30" x2="280.20" y2="317.30" stroke="#c22740" stroke-width="0.75" />
<line x1="261.90" y1="299.40" x2="280.20" y2="324.40" stroke="#c22740" stroke-width="0.75" />
<line x1="261.90" y1="305.20" x2="280.20" y2="317.30" stroke="#c22740" stroke-width="0.75" />
<circle cx="261.90" cy="279.20" r="2.2" fill="#ab0f2d"/>
<circle cx="280.20" cy="304.20" r="2.2" fill="#ab0f2d"/>
<circle cx="261.90" cy="280.60" r="2.2" fill="#ab0f2d"/>
<circle cx="280.20" cy="306.20" r="2.2" fill="#ab0f2d"/>
<circle cx="261.90" cy="289.20" r="2.2" fill="#ab0f2d"/>
<circle cx="280.20" cy="310.00" r="2.2" fill="#ab0f2d"/>
<circle cx="261.90" cy="291.30" r="2.2" fill="#ab0f2d"/>
<circle cx="280.20" cy="317.30" r="2.2" fill="#ab0f2d"/>
<circle cx="261.90" cy="299.40" r="2.2" fill="#ab0f2d"/>
<circle cx="280.20" cy="324.40" r="2.2" fill="#ab0f2d"/>
<circle cx="261.90" cy="305.20" r="2.2" fill="#ab0f2d"/>
<circle cx="280.20" cy="317.30" r="2.2" fill="#ab0f2d"/>
<line x1="298.48" y1="269.20" x2="316.75" y2="302.70" stroke="#c22740" stroke-width="0.75" />
<line x1="298.48" y1="283.70" x2="316.75" y2="305.20" stroke="#c22740" stroke-width="0.75" />
<line x1="298.48" y1="289.20" x2="316.75" y2="314.80" stroke="#c22740" stroke-width="0.75" />
<line x1="298.48" y1="304.80" x2="316.75" y2="336.90" stroke="#c22740" stroke-width="0.75" />
<line x1="298.48" y1="316.20" x2="316.75" y2="345.00" stroke="#c22740" stroke-width="0.75" />
<circle cx="298.48" cy="269.20" r="2.2" fill="#ab0f2d"/>
<circle cx="316.75" cy="302.70" r="2.2" fill="#ab0f2d"/>
<circle cx="298.48" cy="283.70" r="2.2" fill="#ab0f2d"/>
<circle cx="316.75" cy="305.20" r="2.2" fill="#ab0f2d"/>
<circle cx="298.48" cy="289.20" r="2.2" fill="#ab0f2d"/>
<circle cx="316.75" cy="314.80" r="2.2" fill="#ab0f2d"/>
<circle cx="298.48" cy="304.80" r="2.2" fill="#ab0f2d"/>
<circle cx="316.75" cy="336.90" r="2.2" fill="#ab0f2d"/>
<circle cx="298.48" cy="316.20" r="2.2" fill="#ab0f2d"/>
<circle cx="316.75" cy="345.00" r="2.2" fill="#ab0f2d"/>
<line x1="335.06" y1="269.20" x2="353.30" y2="276.90" stroke="#c22740" stroke-width="0.75" />
<line x1="335.06" y1="273.80" x2="353.30" y2="278.70" stroke="#c22740" stroke-width="0.75" />
<line x1="335.06" y1="275.40" x2="353.30" y2="284.00" stroke="#c22740" stroke-width="0.75" />
<line x1="335.06" y1="276.50" x2="353.30" y2="288.50" stroke="#c22740" stroke-width="0.75" />
<line x1="335.06" y1="276.50" x2="353.30" y2="293.70" stroke="#c22740" stroke-width="0.75" />
<circle cx="335.06" cy="269.20" r="2.2" fill="#ab0f2d"/>
<circle cx="353.30" cy="276.90" r="2.2" fill="#ab0f2d"/>
<circle cx="335.06" cy="273.80" r="2.2" fill="#ab0f2d"/>
<circle cx="353.30" cy="278.70" r="2.2" fill="#ab0f2d"/>
<circle cx="335.06" cy="275.40" r="2.2" fill="#ab0f2d"/>
<circle cx="353.30" cy="284.00" r="2.2" fill="#ab0f2d"/>
<circle cx="335.06" cy="276.50" r="2.2" fill="#ab0f2d"/>
<circle cx="353.30" cy="288.50" r="2.2" fill="#ab0f2d"/>
<circle cx="335.06" cy="276.50" r="2.2" fill="#ab0f2d"/>
<circle cx="353.30" cy="293.70" r="2.2" fill="#ab0f2d"/>
<line x1="371.64" y1="275.00" x2="389.85" y2="284.00" stroke="#c22740" stroke-width="0.75" />
<line x1="371.64" y1="275.00" x2="389.85" y2="312.30" stroke="#c22740" stroke-width="0.75" />
<line x1="371.64" y1="301.70" x2="389.85" y2="343.00" stroke="#c22740" stroke-width="0.75" />
<line x1="371.64" y1="307.70" x2="389.85" y2="340.00" stroke="#c22740" stroke-width="0.75" />
<line x1="371.64" y1="311.00" x2="389.85" y2="344.00" stroke="#c22740" stroke-width="0.75" />
<line x1="371.64" y1="319.20" x2="389.85" y2="346.00" stroke="#c22740" stroke-width="0.75" />
<line x1="371.64" y1="337.90" x2="389.85" y2="341.50" stroke="#c22740" stroke-width="0.75" />
<line x1="371.64" y1="339.20" x2="389.85" y2="343.50" stroke="#c22740" stroke-width="0.75" />
<line x1="371.64" y1="340.80" x2="389.85" y2="345.50" stroke="#c22740" stroke-width="0.75" />
<line x1="371.64" y1="341.50" x2="389.85" y2="337.50" stroke="#c22740" stroke-width="0.75" />
<line x1="371.64" y1="311.00" x2="389.85" y2="347.00" stroke="#c22740" stroke-width="0.75" />
<circle cx="371.64" cy="275.00" r="2.2" fill="#ab0f2d"/>
<circle cx="389.85" cy="284.00" r="2.2" fill="#ab0f2d"/>
<circle cx="371.64" cy="275.00" r="2.2" fill="#ab0f2d"/>
<circle cx="389.85" cy="312.30" r="2.2" fill="#ab0f2d"/>
<circle cx="371.64" cy="301.70" r="2.2" fill="#ab0f2d"/>
<circle cx="389.85" cy="343.00" r="2.2" fill="#ab0f2d"/>
<circle cx="371.64" cy="307.70" r="2.2" fill="#ab0f2d"/>
<circle cx="389.85" cy="340.00" r="2.2" fill="#ab0f2d"/>
<circle cx="371.64" cy="311.00" r="2.2" fill="#ab0f2d"/>
<circle cx="389.85" cy="344.00" r="2.2" fill="#ab0f2d"/>
<circle cx="371.64" cy="319.20" r="2.2" fill="#ab0f2d"/>
<circle cx="389.85" cy="346.00" r="2.2" fill="#ab0f2d"/>
<circle cx="371.64" cy="337.90" r="2.2" fill="#ab0f2d"/>
<circle cx="389.85" cy="341.50" r="2.2" fill="#ab0f2d"/>
<circle cx="371.64" cy="339.20" r="2.2" fill="#ab0f2d"/>
<circle cx="389.85" cy="343.50" r="2.2" fill="#ab0f2d"/>
<circle cx="371.64" cy="340.80" r="2.2" fill="#ab0f2d"/>
<circle cx="389.85" cy="345.50" r="2.2" fill="#ab0f2d"/>
<circle cx="371.64" cy="341.50" r="2.2" fill="#ab0f2d"/>
<circle cx="389.85" cy="337.50" r="2.2" fill="#ab0f2d"/>
<circle cx="371.64" cy="311.00" r="2.2" fill="#ab0f2d"/>
<circle cx="389.85" cy="347.00" r="2.2" fill="#ab0f2d"/>
<line x1="408.22" y1="279.00" x2="426.40" y2="283.70" stroke="#c22740" stroke-width="0.75" />
<line x1="408.22" y1="285.00" x2="426.40" y2="287.10" stroke="#c22740" stroke-width="0.75" />
<line x1="408.22" y1="287.10" x2="426.40" y2="290.30" stroke="#c22740" stroke-width="0.75" />
<line x1="408.22" y1="290.30" x2="426.40" y2="292.80" stroke="#c22740" stroke-width="0.75" />
<line x1="408.22" y1="294.90" x2="426.40" y2="302.30" stroke="#c22740" stroke-width="0.75" />
<line x1="408.22" y1="287.10" x2="426.40" y2="308.70" stroke="#c22740" stroke-width="0.75" />
<line x1="408.22" y1="290.30" x2="426.40" y2="287.10" stroke="#c22740" stroke-width="0.75" />
<line x1="408.22" y1="285.00" x2="426.40" y2="292.80" stroke="#c22740" stroke-width="0.75" />
<circle cx="408.22" cy="279.00" r="2.2" fill="#ab0f2d"/>
<circle cx="426.40" cy="283.70" r="2.2" fill="#ab0f2d"/>
<circle cx="408.22" cy="285.00" r="2.2" fill="#ab0f2d"/>
<circle cx="426.40" cy="287.10" r="2.2" fill="#ab0f2d"/>
<circle cx="408.22" cy="287.10" r="2.2" fill="#ab0f2d"/>
<circle cx="426.40" cy="290.30" r="2.2" fill="#ab0f2d"/>
<circle cx="408.22" cy="290.30" r="2.2" fill="#ab0f2d"/>
<circle cx="426.40" cy="292.80" r="2.2" fill="#ab0f2d"/>
<circle cx="408.22" cy="294.90" r="2.2" fill="#ab0f2d"/>
<circle cx="426.40" cy="302.30" r="2.2" fill="#ab0f2d"/>
<circle cx="408.22" cy="287.10" r="2.2" fill="#ab0f2d"/>
<circle cx="426.40" cy="308.70" r="2.2" fill="#ab0f2d"/>
<circle cx="408.22" cy="290.30" r="2.2" fill="#ab0f2d"/>
<circle cx="426.40" cy="287.10" r="2.2" fill="#ab0f2d"/>
<circle cx="408.22" cy="285.00" r="2.2" fill="#ab0f2d"/>
<circle cx="426.40" cy="292.80" r="2.2" fill="#ab0f2d"/>
<line x1="444.80" y1="270.20" x2="462.95" y2="274.40" stroke="#c22740" stroke-width="0.75" />
<line x1="444.80" y1="272.30" x2="462.95" y2="276.50" stroke="#c22740" stroke-width="0.75" />
<line x1="444.80" y1="275.20" x2="462.95" y2="280.10" stroke="#c22740" stroke-width="0.75" />
<line x1="444.80" y1="285.00" x2="462.95" y2="285.40" stroke="#c22740" stroke-width="0.75" />
<line x1="444.80" y1="290.70" x2="462.95" y2="293.80" stroke="#c22740" stroke-width="0.75" />
<line x1="444.80" y1="272.30" x2="462.95" y2="318.80" stroke="#c22740" stroke-width="0.75" />
<line x1="444.80" y1="275.20" x2="462.95" y2="274.40" stroke="#c22740" stroke-width="0.75" />
<line x1="444.80" y1="270.20" x2="462.95" y2="280.10" stroke="#c22740" stroke-width="0.75" />
<line x1="444.80" y1="285.00" x2="462.95" y2="276.50" stroke="#c22740" stroke-width="0.75" />
<circle cx="444.80" cy="270.20" r="2.2" fill="#ab0f2d"/>
<circle cx="462.95" cy="274.40" r="2.2" fill="#ab0f2d"/>
<circle cx="444.80" cy="272.30" r="2.2" fill="#ab0f2d"/>
<circle cx="462.95" cy="276.50" r="2.2" fill="#ab0f2d"/>
<circle cx="444.80" cy="275.20" r="2.2" fill="#ab0f2d"/>
<circle cx="462.95" cy="280.10" r="2.2" fill="#ab0f2d"/>
<circle cx="444.80" cy="285.00" r="2.2" fill="#ab0f2d"/>
<circle cx="462.95" cy="285.40" r="2.2" fill="#ab0f2d"/>
<circle cx="444.80" cy="290.70" r="2.2" fill="#ab0f2d"/>
<circle cx="462.95" cy="293.80" r="2.2" fill="#ab0f2d"/>
<circle cx="444.80" cy="272.30" r="2.2" fill="#ab0f2d"/>
<circle cx="462.95" cy="318.80" r="2.2" fill="#ab0f2d"/>
<circle cx="444.80" cy="275.20" r="2.2" fill="#ab0f2d"/>
<circle cx="462.95" cy="274.40" r="2.2" fill="#ab0f2d"/>
<circle cx="444.80" cy="270.20" r="2.2" fill="#ab0f2d"/>
<circle cx="462.95" cy="280.10" r="2.2" fill="#ab0f2d"/>
<circle cx="444.80" cy="285.00" r="2.2" fill="#ab0f2d"/>
<circle cx="462.95" cy="276.50" r="2.2" fill="#ab0f2d"/>
<line x1="481.38" y1="272.30" x2="499.50" y2="345.00" stroke="#c22740" stroke-width="0.75" />
<line x1="481.38" y1="322.40" x2="499.50" y2="343.60" stroke="#c22740" stroke-width="0.75" />
<line x1="481.38" y1="327.70" x2="499.50" y2="340.40" stroke="#c22740" stroke-width="0.75" />
<line x1="481.38" y1="329.80" x2="499.50" y2="337.20" stroke="#c22740" stroke-width="0.75" />
<line x1="481.38" y1="335.10" x2="499.50" y2="345.70" stroke="#c22740" stroke-width="0.75" />
<line x1="481.38" y1="338.30" x2="499.50" y2="343.60" stroke="#c22740" stroke-width="0.75" />
<line x1="481.38" y1="341.40" x2="499.50" y2="324.50" stroke="#c22740" stroke-width="0.75" />
<line x1="481.38" y1="344.60" x2="499.50" y2="345.70" stroke="#c22740" stroke-width="0.75" />
<line x1="481.38" y1="346.50" x2="499.50" y2="342.00" stroke="#c22740" stroke-width="0.75" />
<line x1="481.38" y1="343.00" x2="499.50" y2="346.50" stroke="#c22740" stroke-width="0.75" />
<circle cx="481.38" cy="272.30" r="2.2" fill="#ab0f2d"/>
<circle cx="499.50" cy="345.00" r="2.2" fill="#ab0f2d"/>
<circle cx="481.38" cy="322.40" r="2.2" fill="#ab0f2d"/>
<circle cx="499.50" cy="343.60" r="2.2" fill="#ab0f2d"/>
<circle cx="481.38" cy="327.70" r="2.2" fill="#ab0f2d"/>
<circle cx="499.50" cy="340.40" r="2.2" fill="#ab0f2d"/>
<circle cx="481.38" cy="329.80" r="2.2" fill="#ab0f2d"/>
<circle cx="499.50" cy="337.20" r="2.2" fill="#ab0f2d"/>
<circle cx="481.38" cy="335.10" r="2.2" fill="#ab0f2d"/>
<circle cx="499.50" cy="345.70" r="2.2" fill="#ab0f2d"/>
<circle cx="481.38" cy="338.30" r="2.2" fill="#ab0f2d"/>
<circle cx="499.50" cy="343.60" r="2.2" fill="#ab0f2d"/>
<circle cx="481.38" cy="341.40" r="2.2" fill="#ab0f2d"/>
<circle cx="499.50" cy="324.50" r="2.2" fill="#ab0f2d"/>
<circle cx="481.38" cy="344.60" r="2.2" fill="#ab0f2d"/>
<circle cx="499.50" cy="345.70" r="2.2" fill="#ab0f2d"/>
<circle cx="481.38" cy="346.50" r="2.2" fill="#ab0f2d"/>
<circle cx="499.50" cy="342.00" r="2.2" fill="#ab0f2d"/>
<circle cx="481.38" cy="343.00" r="2.2" fill="#ab0f2d"/>
<circle cx="499.50" cy="346.50" r="2.2" fill="#ab0f2d"/>
<line x1="260.20" y1="233.30" x2="281.10" y2="233.30" stroke="#222" stroke-width="1.2" />
<text x="270.65" y="231.30" font-size="7.2" text-anchor="middle" fill="#333" font-weight="normal"  class="st">*</text>
<line x1="296.78" y1="233.30" x2="317.65" y2="233.30" stroke="#222" stroke-width="1.2" />
<text x="307.21" y="231.30" font-size="7.2" text-anchor="middle" fill="#333" font-weight="normal"  class="st">*</text>
<line x1="333.36" y1="233.30" x2="354.20" y2="233.30" stroke="#222" stroke-width="1.2" />
<text x="343.78" y="231.30" font-size="7.2" text-anchor="middle" fill="#333" font-weight="normal"  class="st">*</text>
<line x1="369.94" y1="233.30" x2="390.75" y2="233.30" stroke="#222" stroke-width="1.2" />
<text x="380.34" y="231.30" font-size="7.2" text-anchor="middle" fill="#333" font-weight="normal"  class="st">**</text>
<line x1="406.52" y1="233.30" x2="427.30" y2="233.30" stroke="#222" stroke-width="1.2" />
<text x="416.91" y="231.30" font-size="7.2" text-anchor="middle" fill="#333" font-weight="normal"  class="st">**</text>
<line x1="443.10" y1="233.30" x2="463.85" y2="233.30" stroke="#222" stroke-width="1.2" />
<text x="453.47" y="231.30" font-size="7.2" text-anchor="middle" fill="#333" font-weight="normal"  class="st">*</text>
<line x1="479.68" y1="233.30" x2="500.40" y2="233.30" stroke="#222" stroke-width="1.2" />
<text x="490.04" y="231.30" font-size="7.2" text-anchor="middle" fill="#333" font-weight="normal"  class="st">*</text>
<line x1="249.50" y1="227.70" x2="249.50" y2="347.80" stroke="#222" stroke-width="1.1" />
<line x1="249.50" y1="347.30" x2="513.50" y2="347.30" stroke="#222" stroke-width="1.1" />
<line x1="246.80" y1="230.21" x2="249.50" y2="230.21" stroke="#222" stroke-width="1" />
<text x="244.40" y="232.71" font-size="8.0" text-anchor="end" fill="#222" font-weight="normal" >150</text>
<line x1="246.80" y1="269.24" x2="249.50" y2="269.24" stroke="#222" stroke-width="1" />
<text x="244.40" y="271.74" font-size="8.0" text-anchor="end" fill="#222" font-weight="normal" >100</text>
<line x1="246.80" y1="308.27" x2="249.50" y2="308.27" stroke="#222" stroke-width="1" />
<text x="244.40" y="310.77" font-size="8.0" text-anchor="end" fill="#222" font-weight="normal" >50</text>
<line x1="246.80" y1="347.30" x2="249.50" y2="347.30" stroke="#222" stroke-width="1" />
<text x="244.40" y="349.80" font-size="8.0" text-anchor="end" fill="#222" font-weight="normal" >0</text>
<line x1="261.90" y1="347.30" x2="261.90" y2="350.20" stroke="#222" stroke-width="1" />
<text x="265.10" y="355.90" font-size="8.0" text-anchor="end" fill="#222" transform="rotate(-45 265.10 355.90)">CD70+</text>
<line x1="280.20" y1="347.30" x2="280.20" y2="350.20" stroke="#222" stroke-width="1" />
<text x="283.40" y="355.90" font-size="8.0" text-anchor="end" fill="#222" transform="rotate(-45 283.40 355.90)">CD70−</text>
<line x1="258.90" y1="380.50" x2="284.60" y2="380.50" stroke="#222" stroke-width="1.3" />
<text x="271.75" y="390.10" font-size="7.4" text-anchor="middle" fill="#222" font-weight="normal" >PD-1</text>
<line x1="298.48" y1="347.30" x2="298.48" y2="350.20" stroke="#222" stroke-width="1" />
<text x="301.68" y="355.90" font-size="8.0" text-anchor="end" fill="#222" transform="rotate(-45 301.68 355.90)">CD70+</text>
<line x1="316.75" y1="347.30" x2="316.75" y2="350.20" stroke="#222" stroke-width="1" />
<text x="319.95" y="355.90" font-size="8.0" text-anchor="end" fill="#222" transform="rotate(-45 319.95 355.90)">CD70−</text>
<line x1="295.48" y1="380.50" x2="321.15" y2="380.50" stroke="#222" stroke-width="1.3" />
<text x="308.31" y="390.10" font-size="7.4" text-anchor="middle" fill="#222" font-weight="normal" >CD95</text>
<line x1="335.06" y1="347.30" x2="335.06" y2="350.20" stroke="#222" stroke-width="1" />
<text x="338.26" y="355.90" font-size="8.0" text-anchor="end" fill="#222" transform="rotate(-45 338.26 355.90)">CD70+</text>
<line x1="353.30" y1="347.30" x2="353.30" y2="350.20" stroke="#222" stroke-width="1" />
<text x="356.50" y="355.90" font-size="8.0" text-anchor="end" fill="#222" transform="rotate(-45 356.50 355.90)">CD70−</text>
<line x1="332.06" y1="380.50" x2="357.70" y2="380.50" stroke="#222" stroke-width="1.3" />
<text x="344.88" y="390.10" font-size="7.4" text-anchor="middle" fill="#222" font-weight="normal" >LAG-3</text>
<line x1="371.64" y1="347.30" x2="371.64" y2="350.20" stroke="#222" stroke-width="1" />
<text x="374.84" y="355.90" font-size="8.0" text-anchor="end" fill="#222" transform="rotate(-45 374.84 355.90)">CD70+</text>
<line x1="389.85" y1="347.30" x2="389.85" y2="350.20" stroke="#222" stroke-width="1" />
<text x="393.05" y="355.90" font-size="8.0" text-anchor="end" fill="#222" transform="rotate(-45 393.05 355.90)">CD70−</text>
<line x1="368.64" y1="380.50" x2="394.25" y2="380.50" stroke="#222" stroke-width="1.3" />
<text x="381.44" y="390.10" font-size="7.4" text-anchor="middle" fill="#222" font-weight="normal" >ICOS</text>
<line x1="408.22" y1="347.30" x2="408.22" y2="350.20" stroke="#222" stroke-width="1" />
<text x="411.42" y="355.90" font-size="8.0" text-anchor="end" fill="#222" transform="rotate(-45 411.42 355.90)">CD70+</text>
<line x1="426.40" y1="347.30" x2="426.40" y2="350.20" stroke="#222" stroke-width="1" />
<text x="429.60" y="355.90" font-size="8.0" text-anchor="end" fill="#222" transform="rotate(-45 429.60 355.90)">CD70−</text>
<line x1="405.22" y1="380.50" x2="430.80" y2="380.50" stroke="#222" stroke-width="1.3" />
<text x="418.01" y="390.10" font-size="7.4" text-anchor="middle" fill="#222" font-weight="normal" >CTLA-4</text>
<line x1="444.80" y1="347.30" x2="444.80" y2="350.20" stroke="#222" stroke-width="1" />
<text x="448.00" y="355.90" font-size="8.0" text-anchor="end" fill="#222" transform="rotate(-45 448.00 355.90)">CD70+</text>
<line x1="462.95" y1="347.30" x2="462.95" y2="350.20" stroke="#222" stroke-width="1" />
<text x="466.15" y="355.90" font-size="8.0" text-anchor="end" fill="#222" transform="rotate(-45 466.15 355.90)">CD70−</text>
<line x1="441.80" y1="380.50" x2="467.35" y2="380.50" stroke="#222" stroke-width="1.3" />
<text x="454.57" y="390.10" font-size="7.4" text-anchor="middle" fill="#222" font-weight="normal" >CD28</text>
<line x1="481.38" y1="347.30" x2="481.38" y2="350.20" stroke="#222" stroke-width="1" />
<text x="484.58" y="355.90" font-size="8.0" text-anchor="end" fill="#222" transform="rotate(-45 484.58 355.90)">CD70+</text>
<line x1="499.50" y1="347.30" x2="499.50" y2="350.20" stroke="#222" stroke-width="1" />
<text x="502.70" y="355.90" font-size="8.0" text-anchor="end" fill="#222" transform="rotate(-45 502.70 355.90)">CD70−</text>
<line x1="478.38" y1="380.50" x2="503.90" y2="380.50" stroke="#222" stroke-width="1.3" />
<text x="491.14" y="390.10" font-size="7.4" text-anchor="middle" fill="#222" font-weight="normal" >CD154</text>
<text class="ct" x="225.00" y="287.10" font-size="8.4" text-anchor="middle" fill="#222" textLength="48.6" lengthAdjust="spacingAndGlyphs" transform="rotate(-90 225.00 287.10)">CD4+ percentage</text>
<text x="207.40" y="416.00" font-size="10.0" text-anchor="start" fill="#000" font-weight="bold" >F</text>
<line x1="289.70" y1="435.10" x2="289.70" y2="553.90" stroke="#7a7a8a" stroke-width="0.8" stroke-dasharray="1,1.2"/>
<line x1="326.28" y1="435.10" x2="326.28" y2="553.90" stroke="#7a7a8a" stroke-width="0.8" stroke-dasharray="1,1.2"/>
<line x1="362.86" y1="435.10" x2="362.86" y2="553.90" stroke="#7a7a8a" stroke-width="0.8" stroke-dasharray="1,1.2"/>
<line x1="399.44" y1="435.10" x2="399.44" y2="553.90" stroke="#7a7a8a" stroke-width="0.8" stroke-dasharray="1,1.2"/>
<line x1="436.02" y1="435.10" x2="436.02" y2="553.90" stroke="#7a7a8a" stroke-width="0.8" stroke-dasharray="1,1.2"/>
<line x1="472.60" y1="435.10" x2="472.60" y2="553.90" stroke="#7a7a8a" stroke-width="0.8" stroke-dasharray="1,1.2"/>
<line x1="261.90" y1="495.00" x2="280.20" y2="511.50" stroke="#c22740" stroke-width="0.75" />
<line x1="261.90" y1="501.90" x2="280.20" y2="501.90" stroke="#c22740" stroke-width="0.75" />
<line x1="261.90" y1="509.40" x2="280.20" y2="512.90" stroke="#c22740" stroke-width="0.75" />
<line x1="261.90" y1="514.80" x2="280.20" y2="517.30" stroke="#c22740" stroke-width="0.75" />
<line x1="261.90" y1="515.80" x2="280.20" y2="521.50" stroke="#c22740" stroke-width="0.75" />
<line x1="261.90" y1="518.70" x2="280.20" y2="530.80" stroke="#c22740" stroke-width="0.75" />
<circle cx="261.90" cy="495.00" r="2.2" fill="#ab0f2d"/>
<circle cx="280.20" cy="511.50" r="2.2" fill="#ab0f2d"/>
<circle cx="261.90" cy="501.90" r="2.2" fill="#ab0f2d"/>
<circle cx="280.20" cy="501.90" r="2.2" fill="#ab0f2d"/>
<circle cx="261.90" cy="509.40" r="2.2" fill="#ab0f2d"/>
<circle cx="280.20" cy="512.90" r="2.2" fill="#ab0f2d"/>
<circle cx="261.90" cy="514.80" r="2.2" fill="#ab0f2d"/>
<circle cx="280.20" cy="517.30" r="2.2" fill="#ab0f2d"/>
<circle cx="261.90" cy="515.80" r="2.2" fill="#ab0f2d"/>
<circle cx="280.20" cy="521.50" r="2.2" fill="#ab0f2d"/>
<circle cx="261.90" cy="518.70" r="2.2" fill="#ab0f2d"/>
<circle cx="280.20" cy="530.80" r="2.2" fill="#ab0f2d"/>
<line x1="298.48" y1="487.30" x2="316.75" y2="522.90" stroke="#c22740" stroke-width="0.75" />
<line x1="298.48" y1="500.40" x2="316.75" y2="530.80" stroke="#c22740" stroke-width="0.75" />
<line x1="298.48" y1="501.90" x2="316.75" y2="539.20" stroke="#c22740" stroke-width="0.75" />
<line x1="298.48" y1="510.40" x2="316.75" y2="546.00" stroke="#c22740" stroke-width="0.75" />
<line x1="298.48" y1="515.20" x2="316.75" y2="547.50" stroke="#c22740" stroke-width="0.75" />
<line x1="298.48" y1="541.70" x2="316.75" y2="554.20" stroke="#c22740" stroke-width="0.75" />
<circle cx="298.48" cy="487.30" r="2.2" fill="#ab0f2d"/>
<circle cx="316.75" cy="522.90" r="2.2" fill="#ab0f2d"/>
<circle cx="298.48" cy="500.40" r="2.2" fill="#ab0f2d"/>
<circle cx="316.75" cy="530.80" r="2.2" fill="#ab0f2d"/>
<circle cx="298.48" cy="501.90" r="2.2" fill="#ab0f2d"/>
<circle cx="316.75" cy="539.20" r="2.2" fill="#ab0f2d"/>
<circle cx="298.48" cy="510.40" r="2.2" fill="#ab0f2d"/>
<circle cx="316.75" cy="546.00" r="2.2" fill="#ab0f2d"/>
<circle cx="298.48" cy="515.20" r="2.2" fill="#ab0f2d"/>
<circle cx="316.75" cy="547.50" r="2.2" fill="#ab0f2d"/>
<circle cx="298.48" cy="541.70" r="2.2" fill="#ab0f2d"/>
<circle cx="316.75" cy="554.20" r="2.2" fill="#ab0f2d"/>
<line x1="335.06" y1="501.90" x2="353.30" y2="526.30" stroke="#c22740" stroke-width="0.75" />
<line x1="335.06" y1="507.10" x2="353.30" y2="509.60" stroke="#c22740" stroke-width="0.75" />
<line x1="335.06" y1="510.40" x2="353.30" y2="509.60" stroke="#c22740" stroke-width="0.75" />
<line x1="335.06" y1="521.20" x2="353.30" y2="515.20" stroke="#c22740" stroke-width="0.75" />
<line x1="335.06" y1="523.10" x2="353.30" y2="530.80" stroke="#c22740" stroke-width="0.75" />
<line x1="335.06" y1="507.10" x2="353.30" y2="528.30" stroke="#c22740" stroke-width="0.75" />
<circle cx="335.06" cy="501.90" r="2.2" fill="#ab0f2d"/>
<circle cx="353.30" cy="526.30" r="2.2" fill="#ab0f2d"/>
<circle cx="335.06" cy="507.10" r="2.2" fill="#ab0f2d"/>
<circle cx="353.30" cy="509.60" r="2.2" fill="#ab0f2d"/>
<circle cx="335.06" cy="510.40" r="2.2" fill="#ab0f2d"/>
<circle cx="353.30" cy="509.60" r="2.2" fill="#ab0f2d"/>
<circle cx="335.06" cy="521.20" r="2.2" fill="#ab0f2d"/>
<circle cx="353.30" cy="515.20" r="2.2" fill="#ab0f2d"/>
<circle cx="335.06" cy="523.10" r="2.2" fill="#ab0f2d"/>
<circle cx="353.30" cy="530.80" r="2.2" fill="#ab0f2d"/>
<circle cx="335.06" cy="507.10" r="2.2" fill="#ab0f2d"/>
<circle cx="353.30" cy="528.30" r="2.2" fill="#ab0f2d"/>
<line x1="371.64" y1="475.80" x2="389.85" y2="541.70" stroke="#c22740" stroke-width="0.75" />
<line x1="371.64" y1="534.00" x2="389.85" y2="549.40" stroke="#c22740" stroke-width="0.75" />
<line x1="371.64" y1="537.90" x2="389.85" y2="551.30" stroke="#c22740" stroke-width="0.75" />
<line x1="371.64" y1="540.80" x2="389.85" y2="553.30" stroke="#c22740" stroke-width="0.75" />
<line x1="371.64" y1="543.70" x2="389.85" y2="554.60" stroke="#c22740" stroke-width="0.75" />
<line x1="371.64" y1="545.60" x2="389.85" y2="552.00" stroke="#c22740" stroke-width="0.75" />
<line x1="371.64" y1="554.20" x2="389.85" y2="554.20" stroke="#c22740" stroke-width="0.75" />
<circle cx="371.64" cy="475.80" r="2.2" fill="#ab0f2d"/>
<circle cx="389.85" cy="541.70" r="2.2" fill="#ab0f2d"/>
<circle cx="371.64" cy="534.00" r="2.2" fill="#ab0f2d"/>
<circle cx="389.85" cy="549.40" r="2.2" fill="#ab0f2d"/>
<circle cx="371.64" cy="537.90" r="2.2" fill="#ab0f2d"/>
<circle cx="389.85" cy="551.30" r="2.2" fill="#ab0f2d"/>
<circle cx="371.64" cy="540.80" r="2.2" fill="#ab0f2d"/>
<circle cx="389.85" cy="553.30" r="2.2" fill="#ab0f2d"/>
<circle cx="371.64" cy="543.70" r="2.2" fill="#ab0f2d"/>
<circle cx="389.85" cy="554.60" r="2.2" fill="#ab0f2d"/>
<circle cx="371.64" cy="545.60" r="2.2" fill="#ab0f2d"/>
<circle cx="389.85" cy="552.00" r="2.2" fill="#ab0f2d"/>
<circle cx="371.64" cy="554.20" r="2.2" fill="#ab0f2d"/>
<circle cx="389.85" cy="554.20" r="2.2" fill="#ab0f2d"/>
<line x1="408.22" y1="487.10" x2="426.40" y2="497.00" stroke="#c22740" stroke-width="0.75" />
<line x1="408.22" y1="491.30" x2="426.40" y2="553.10" stroke="#c22740" stroke-width="0.75" />
<line x1="408.22" y1="494.30" x2="426.40" y2="501.90" stroke="#c22740" stroke-width="0.75" />
<line x1="408.22" y1="497.00" x2="426.40" y2="553.10" stroke="#c22740" stroke-width="0.75" />
<line x1="408.22" y1="499.10" x2="426.40" y2="553.10" stroke="#c22740" stroke-width="0.75" />
<line x1="408.22" y1="502.30" x2="426.40" y2="553.10" stroke="#c22740" stroke-width="0.75" />
<line x1="408.22" y1="553.50" x2="426.40" y2="523.50" stroke="#c22740" stroke-width="0.75" />
<line x1="408.22" y1="489.00" x2="426.40" y2="553.10" stroke="#c22740" stroke-width="0.75" />
<circle cx="408.22" cy="487.10" r="2.2" fill="#ab0f2d"/>
<circle cx="426.40" cy="497.00" r="2.2" fill="#ab0f2d"/>
<circle cx="408.22" cy="491.30" r="2.2" fill="#ab0f2d"/>
<circle cx="426.40" cy="553.10" r="2.2" fill="#ab0f2d"/>
<circle cx="408.22" cy="494.30" r="2.2" fill="#ab0f2d"/>
<circle cx="426.40" cy="501.90" r="2.2" fill="#ab0f2d"/>
<circle cx="408.22" cy="497.00" r="2.2" fill="#ab0f2d"/>
<circle cx="426.40" cy="553.10" r="2.2" fill="#ab0f2d"/>
<circle cx="408.22" cy="499.10" r="2.2" fill="#ab0f2d"/>
<circle cx="426.40" cy="553.10" r="2.2" fill="#ab0f2d"/>
<circle cx="408.22" cy="502.30" r="2.2" fill="#ab0f2d"/>
<circle cx="426.40" cy="553.10" r="2.2" fill="#ab0f2d"/>
<circle cx="408.22" cy="553.50" r="2.2" fill="#ab0f2d"/>
<circle cx="426.40" cy="523.50" r="2.2" fill="#ab0f2d"/>
<circle cx="408.22" cy="489.00" r="2.2" fill="#ab0f2d"/>
<circle cx="426.40" cy="553.10" r="2.2" fill="#ab0f2d"/>
<line x1="444.80" y1="475.90" x2="462.95" y2="478.60" stroke="#c22740" stroke-width="0.75" />
<line x1="444.80" y1="475.90" x2="462.95" y2="480.70" stroke="#c22740" stroke-width="0.75" />
<line x1="444.80" y1="482.80" x2="462.95" y2="502.30" stroke="#c22740" stroke-width="0.75" />
<line x1="444.80" y1="493.80" x2="462.95" y2="510.80" stroke="#c22740" stroke-width="0.75" />
<line x1="444.80" y1="512.50" x2="462.95" y2="534.50" stroke="#c22740" stroke-width="0.75" />
<line x1="444.80" y1="515.40" x2="462.95" y2="537.20" stroke="#c22740" stroke-width="0.75" />
<line x1="444.80" y1="517.50" x2="462.95" y2="551.40" stroke="#c22740" stroke-width="0.75" />
<line x1="444.80" y1="535.10" x2="462.95" y2="553.10" stroke="#c22740" stroke-width="0.75" />
<line x1="444.80" y1="548.40" x2="462.95" y2="553.10" stroke="#c22740" stroke-width="0.75" />
<line x1="444.80" y1="553.50" x2="462.95" y2="553.10" stroke="#c22740" stroke-width="0.75" />
<line x1="444.80" y1="482.80" x2="462.95" y2="475.90" stroke="#c22740" stroke-width="0.75" />
<line x1="444.80" y1="512.50" x2="462.95" y2="553.10" stroke="#c22740" stroke-width="0.75" />
<circle cx="444.80" cy="475.90" r="2.2" fill="#ab0f2d"/>
<circle cx="462.95" cy="478.60" r="2.2" fill="#ab0f2d"/>
<circle cx="444.80" cy="475.90" r="2.2" fill="#ab0f2d"/>
<circle cx="462.95" cy="480.70" r="2.2" fill="#ab0f2d"/>
<circle cx="444.80" cy="482.80" r="2.2" fill="#ab0f2d"/>
<circle cx="462.95" cy="502.30" r="2.2" fill="#ab0f2d"/>
<circle cx="444.80" cy="493.80" r="2.2" fill="#ab0f2d"/>
<circle cx="462.95" cy="510.80" r="2.2" fill="#ab0f2d"/>
<circle cx="444.80" cy="512.50" r="2.2" fill="#ab0f2d"/>
<circle cx="462.95" cy="534.50" r="2.2" fill="#ab0f2d"/>
<circle cx="444.80" cy="515.40" r="2.2" fill="#ab0f2d"/>
<circle cx="462.95" cy="537.20" r="2.2" fill="#ab0f2d"/>
<circle cx="444.80" cy="517.50" r="2.2" fill="#ab0f2d"/>
<circle cx="462.95" cy="551.40" r="2.2" fill="#ab0f2d"/>
<circle cx="444.80" cy="535.10" r="2.2" fill="#ab0f2d"/>
<circle cx="462.95" cy="553.10" r="2.2" fill="#ab0f2d"/>
<circle cx="444.80" cy="548.40" r="2.2" fill="#ab0f2d"/>
<circle cx="462.95" cy="553.10" r="2.2" fill="#ab0f2d"/>
<circle cx="444.80" cy="553.50" r="2.2" fill="#ab0f2d"/>
<circle cx="462.95" cy="553.10" r="2.2" fill="#ab0f2d"/>
<circle cx="444.80" cy="482.80" r="2.2" fill="#ab0f2d"/>
<circle cx="462.95" cy="475.90" r="2.2" fill="#ab0f2d"/>
<circle cx="444.80" cy="512.50" r="2.2" fill="#ab0f2d"/>
<circle cx="462.95" cy="553.10" r="2.2" fill="#ab0f2d"/>
<line x1="481.38" y1="544.20" x2="499.50" y2="552.70" stroke="#c22740" stroke-width="0.75" />
<line x1="481.38" y1="546.70" x2="499.50" y2="554.10" stroke="#c22740" stroke-width="0.75" />
<line x1="481.38" y1="548.90" x2="499.50" y2="552.70" stroke="#c22740" stroke-width="0.75" />
<line x1="481.38" y1="551.00" x2="499.50" y2="554.10" stroke="#c22740" stroke-width="0.75" />
<line x1="481.38" y1="553.10" x2="499.50" y2="554.10" stroke="#c22740" stroke-width="0.75" />
<circle cx="481.38" cy="544.20" r="2.2" fill="#ab0f2d"/>
<circle cx="499.50" cy="552.70" r="2.2" fill="#ab0f2d"/>
<circle cx="481.38" cy="546.70" r="2.2" fill="#ab0f2d"/>
<circle cx="499.50" cy="554.10" r="2.2" fill="#ab0f2d"/>
<circle cx="481.38" cy="548.90" r="2.2" fill="#ab0f2d"/>
<circle cx="499.50" cy="552.70" r="2.2" fill="#ab0f2d"/>
<circle cx="481.38" cy="551.00" r="2.2" fill="#ab0f2d"/>
<circle cx="499.50" cy="554.10" r="2.2" fill="#ab0f2d"/>
<circle cx="481.38" cy="553.10" r="2.2" fill="#ab0f2d"/>
<circle cx="499.50" cy="554.10" r="2.2" fill="#ab0f2d"/>
<line x1="260.20" y1="433.20" x2="281.10" y2="433.20" stroke="#222" stroke-width="1.2" />
<text x="270.65" y="428.30" font-size="7.2" text-anchor="middle" fill="#333" font-weight="normal" >ns</text>
<line x1="296.78" y1="433.20" x2="317.65" y2="433.20" stroke="#222" stroke-width="1.2" />
<text x="307.21" y="431.20" font-size="7.2" text-anchor="middle" fill="#333" font-weight="normal"  class="st">*</text>
<line x1="333.36" y1="433.20" x2="354.20" y2="433.20" stroke="#222" stroke-width="1.2" />
<text x="343.78" y="428.30" font-size="7.2" text-anchor="middle" fill="#333" font-weight="normal" >ns</text>
<line x1="369.94" y1="433.20" x2="390.75" y2="433.20" stroke="#222" stroke-width="1.2" />
<text x="380.34" y="431.20" font-size="7.2" text-anchor="middle" fill="#333" font-weight="normal"  class="st">**</text>
<line x1="406.52" y1="433.20" x2="427.30" y2="433.20" stroke="#222" stroke-width="1.2" />
<text x="416.91" y="431.20" font-size="7.2" text-anchor="middle" fill="#333" font-weight="normal"  class="st">*</text>
<line x1="443.10" y1="433.20" x2="463.85" y2="433.20" stroke="#222" stroke-width="1.2" />
<text x="453.47" y="431.20" font-size="7.2" text-anchor="middle" fill="#333" font-weight="normal"  class="st">**</text>
<line x1="479.68" y1="433.20" x2="500.40" y2="433.20" stroke="#222" stroke-width="1.2" />
<text x="490.04" y="431.20" font-size="7.2" text-anchor="middle" fill="#333" font-weight="normal"  class="st">**</text>
<line x1="249.50" y1="434.20" x2="249.50" y2="554.40" stroke="#222" stroke-width="1.1" />
<line x1="249.50" y1="553.90" x2="513.50" y2="553.90" stroke="#222" stroke-width="1.1" />
<line x1="246.80" y1="436.81" x2="249.50" y2="436.81" stroke="#222" stroke-width="1" />
<text x="244.40" y="439.31" font-size="8.0" text-anchor="end" fill="#222" font-weight="normal" >150</text>
<line x1="246.80" y1="475.84" x2="249.50" y2="475.84" stroke="#222" stroke-width="1" />
<text x="244.40" y="478.34" font-size="8.0" text-anchor="end" fill="#222" font-weight="normal" >100</text>
<line x1="246.80" y1="514.87" x2="249.50" y2="514.87" stroke="#222" stroke-width="1" />
<text x="244.40" y="517.37" font-size="8.0" text-anchor="end" fill="#222" font-weight="normal" >50</text>
<line x1="246.80" y1="553.90" x2="249.50" y2="553.90" stroke="#222" stroke-width="1" />
<text x="244.40" y="556.40" font-size="8.0" text-anchor="end" fill="#222" font-weight="normal" >0</text>
<line x1="261.90" y1="553.90" x2="261.90" y2="556.80" stroke="#222" stroke-width="1" />
<text x="265.10" y="562.50" font-size="8.0" text-anchor="end" fill="#222" transform="rotate(-45 265.10 562.50)">CD70+</text>
<line x1="280.20" y1="553.90" x2="280.20" y2="556.80" stroke="#222" stroke-width="1" />
<text x="283.40" y="562.50" font-size="8.0" text-anchor="end" fill="#222" transform="rotate(-45 283.40 562.50)">CD70−</text>
<line x1="258.90" y1="587.10" x2="284.60" y2="587.10" stroke="#222" stroke-width="1.3" />
<text x="271.75" y="596.70" font-size="7.4" text-anchor="middle" fill="#222" font-weight="normal" >PD-1</text>
<line x1="298.48" y1="553.90" x2="298.48" y2="556.80" stroke="#222" stroke-width="1" />
<text x="301.68" y="562.50" font-size="8.0" text-anchor="end" fill="#222" transform="rotate(-45 301.68 562.50)">CD70+</text>
<line x1="316.75" y1="553.90" x2="316.75" y2="556.80" stroke="#222" stroke-width="1" />
<text x="319.95" y="562.50" font-size="8.0" text-anchor="end" fill="#222" transform="rotate(-45 319.95 562.50)">CD70−</text>
<line x1="295.48" y1="587.10" x2="321.15" y2="587.10" stroke="#222" stroke-width="1.3" />
<text x="308.31" y="596.70" font-size="7.4" text-anchor="middle" fill="#222" font-weight="normal" >CD95</text>
<line x1="335.06" y1="553.90" x2="335.06" y2="556.80" stroke="#222" stroke-width="1" />
<text x="338.26" y="562.50" font-size="8.0" text-anchor="end" fill="#222" transform="rotate(-45 338.26 562.50)">CD70+</text>
<line x1="353.30" y1="553.90" x2="353.30" y2="556.80" stroke="#222" stroke-width="1" />
<text x="356.50" y="562.50" font-size="8.0" text-anchor="end" fill="#222" transform="rotate(-45 356.50 562.50)">CD70−</text>
<line x1="332.06" y1="587.10" x2="357.70" y2="587.10" stroke="#222" stroke-width="1.3" />
<text x="344.88" y="596.70" font-size="7.4" text-anchor="middle" fill="#222" font-weight="normal" >LAG-3</text>
<line x1="371.64" y1="553.90" x2="371.64" y2="556.80" stroke="#222" stroke-width="1" />
<text x="374.84" y="562.50" font-size="8.0" text-anchor="end" fill="#222" transform="rotate(-45 374.84 562.50)">CD70+</text>
<line x1="389.85" y1="553.90" x2="389.85" y2="556.80" stroke="#222" stroke-width="1" />
<text x="393.05" y="562.50" font-size="8.0" text-anchor="end" fill="#222" transform="rotate(-45 393.05 562.50)">CD70−</text>
<line x1="368.64" y1="587.10" x2="394.25" y2="587.10" stroke="#222" stroke-width="1.3" />
<text x="381.44" y="596.70" font-size="7.4" text-anchor="middle" fill="#222" font-weight="normal" >ICOS</text>
<line x1="408.22" y1="553.90" x2="408.22" y2="556.80" stroke="#222" stroke-width="1" />
<text x="411.42" y="562.50" font-size="8.0" text-anchor="end" fill="#222" transform="rotate(-45 411.42 562.50)">CD70+</text>
<line x1="426.40" y1="553.90" x2="426.40" y2="556.80" stroke="#222" stroke-width="1" />
<text x="429.60" y="562.50" font-size="8.0" text-anchor="end" fill="#222" transform="rotate(-45 429.60 562.50)">CD70−</text>
<line x1="405.22" y1="587.10" x2="430.80" y2="587.10" stroke="#222" stroke-width="1.3" />
<text x="418.01" y="596.70" font-size="7.4" text-anchor="middle" fill="#222" font-weight="normal" >CTLA-4</text>
<line x1="444.80" y1="553.90" x2="444.80" y2="556.80" stroke="#222" stroke-width="1" />
<text x="448.00" y="562.50" font-size="8.0" text-anchor="end" fill="#222" transform="rotate(-45 448.00 562.50)">CD70+</text>
<line x1="462.95" y1="553.90" x2="462.95" y2="556.80" stroke="#222" stroke-width="1" />
<text x="466.15" y="562.50" font-size="8.0" text-anchor="end" fill="#222" transform="rotate(-45 466.15 562.50)">CD70−</text>
<line x1="441.80" y1="587.10" x2="467.35" y2="587.10" stroke="#222" stroke-width="1.3" />
<text x="454.57" y="596.70" font-size="7.4" text-anchor="middle" fill="#222" font-weight="normal" >CD28</text>
<line x1="481.38" y1="553.90" x2="481.38" y2="556.80" stroke="#222" stroke-width="1" />
<text x="484.58" y="562.50" font-size="8.0" text-anchor="end" fill="#222" transform="rotate(-45 484.58 562.50)">CD70+</text>
<line x1="499.50" y1="553.90" x2="499.50" y2="556.80" stroke="#222" stroke-width="1" />
<text x="502.70" y="562.50" font-size="8.0" text-anchor="end" fill="#222" transform="rotate(-45 502.70 562.50)">CD70−</text>
<line x1="478.38" y1="587.10" x2="503.90" y2="587.10" stroke="#222" stroke-width="1.3" />
<text x="491.14" y="596.70" font-size="7.4" text-anchor="middle" fill="#222" font-weight="normal" >CD154</text>
<text class="ct" x="225.00" y="493.70" font-size="8.4" text-anchor="middle" fill="#222" textLength="48.6" lengthAdjust="spacingAndGlyphs" transform="rotate(-90 225.00 493.70)">CD8+ percentage</text>
<rect x="0.5" y="0.5" width="519" height="604" fill="none" stroke="#5a5a5a" stroke-width="1"/>
</svg>
</body></html>
